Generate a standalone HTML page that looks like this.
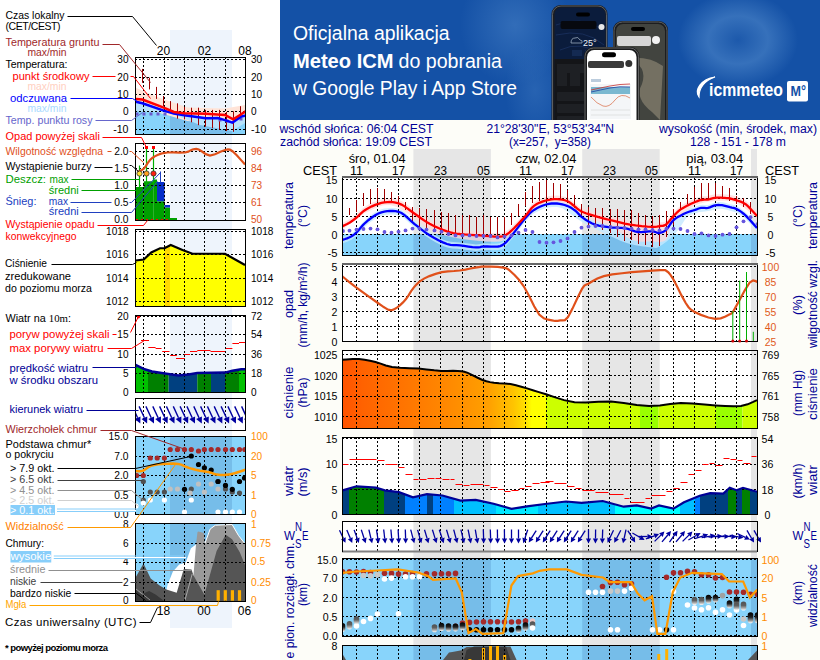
<!DOCTYPE html><html><head><meta charset="utf-8"><style>html,body{margin:0;padding:0;background:#fff;} svg{display:block;} text{font-family:"Liberation Sans", sans-serif;}</style></head><body>
<svg width="820" height="660" viewBox="0 0 820 660">
<rect x="0" y="0" width="280" height="660" fill="#ffffff"/>
<rect x="280" y="0" width="540" height="660" fill="#fdfdf8"/>
<defs>
<linearGradient id="bnbg" x1="0" y1="0" x2="1" y2="0">
 <stop offset="0" stop-color="#1451a6"/><stop offset="0.3" stop-color="#1753a8"/>
 <stop offset="0.42" stop-color="#2d66b5"/><stop offset="0.5" stop-color="#2660b2"/><stop offset="0.8" stop-color="#1a55aa"/><stop offset="1" stop-color="#1450a6"/>
</linearGradient>
<radialGradient id="bnring" cx="0.5" cy="0.5" r="0.5">
 <stop offset="0" stop-color="#4d86c9" stop-opacity="0.15"/><stop offset="0.5" stop-color="#4d86c9" stop-opacity="0.6"/><stop offset="1" stop-color="#4d86c9" stop-opacity="0"/>
</radialGradient>
<radialGradient id="bnglow" cx="0.5" cy="0.5" r="0.5">
 <stop offset="0" stop-color="#4d86c9" stop-opacity="0.75"/><stop offset="1" stop-color="#4d86c9" stop-opacity="0"/>
</radialGradient>
<clipPath id="cpBan"><rect x="280" y="0" width="540" height="120"/></clipPath>
</defs>
<g clip-path="url(#cpBan)">
<rect x="280" y="0" width="540" height="120" fill="#1451a6"/>
<ellipse cx="738" cy="40" rx="60" ry="48" fill="url(#bnring)"/>
<ellipse cx="515" cy="25" rx="55" ry="60" fill="url(#bnglow)" opacity="0.7"/>
<ellipse cx="535" cy="90" rx="30" ry="50" fill="url(#bnglow)" opacity="0.45"/>
<text x="293" y="39.5" font-size="19.5" fill="#ffffff" textLength="156.5" lengthAdjust="spacingAndGlyphs">Oficjalna aplikacja</text>
<text x="293" y="67.5" font-size="19.5" fill="#ffffff" font-weight="bold" textLength="100.5" lengthAdjust="spacingAndGlyphs">Meteo ICM</text>
<text x="398.5" y="67.5" font-size="19.5" fill="#ffffff" textLength="103.5" lengthAdjust="spacingAndGlyphs">do pobrania</text>
<text x="293" y="95" font-size="19.5" fill="#ffffff" textLength="224" lengthAdjust="spacingAndGlyphs">w Google Play i App Store</text>
<rect x="551.5" y="5" width="56" height="130" rx="9" fill="#1c1d20"/>
<rect x="552.5" y="6" width="54" height="128" rx="8.5" fill="none" stroke="#6c6e72" stroke-width="0.8"/>
<rect x="554.5" y="7.5" width="51" height="125" rx="7" fill="#0b1c3c"/>
<path d="M556,25 Q580,15 604,30 M556,35 Q585,28 604,45 M560,50 Q580,40 604,55" stroke="#1a3160" stroke-width="0.8" fill="none"/>
<rect x="554.5" y="59" width="51" height="70" fill="#141518"/>
<rect x="576" y="12.5" width="14" height="4" rx="2" fill="#000"/>
<rect x="560.5" y="21" width="36" height="8" rx="2" fill="#07090f"/>
<circle cx="601.5" cy="27" r="3" fill="#e8e8e8"/>
<text x="583" y="46" font-size="9" fill="#f0f4fa">25°</text>
<path d="M571,43 q0,-5 4,-5 q3,-2 5,2 q3,0 2,3z" fill="none" stroke="#9ab" stroke-width="0.8"/>
<rect x="572" y="50" width="10" height="6" fill="#142a52"/><rect x="585" y="50" width="10" height="6" fill="#142a52"/>
<rect x="557" y="64" width="45" height="9" rx="1" fill="#1e2024"/>
<rect x="557" y="92" width="45" height="9" rx="1" fill="#1e2024"/>
<rect x="557" y="104" width="45" height="9" rx="1" fill="#1e2024"/>
<rect x="557" y="116" width="45" height="9" rx="1" fill="#1e2024"/>
<rect x="557" y="64" width="10" height="22" fill="#1e2024"/><rect x="570" y="64" width="10" height="22" fill="#1e2024"/>
<rect x="613" y="21" width="55" height="120" rx="9" fill="#1c1d1f"/>
<rect x="614" y="22" width="53" height="118" rx="8.5" fill="none" stroke="#707274" stroke-width="0.8"/>
<rect x="616" y="24" width="49" height="115" rx="7" fill="#42443f"/>
<path d="M628,58 Q648,66 642,84 Q634,98 652,112 L660,120 L663,66 Q650,56 628,58Z" fill="#7d7868" opacity="0.85"/><path d="M618,95 Q626,100 622,120 L616,120Z" fill="#6a675c"/>
<path d="M618,50 Q630,55 628,75 Q622,90 630,110" stroke="#7f8fa0" stroke-width="0.7" fill="none"/>
<rect x="631" y="27" width="14" height="4" rx="2" fill="#000"/>
<rect x="617" y="36" width="34" height="10" rx="2" fill="#d6d6d6"/>
<circle cx="656" cy="40" r="4" fill="#f2f2f2"/>
<rect x="584" y="47" width="55.5" height="100" rx="9" fill="#1a1b1d"/>
<rect x="585" y="48" width="53.5" height="98" rx="8.5" fill="none" stroke="#777" stroke-width="0.8"/>
<rect x="587" y="50" width="49.5" height="95" rx="7" fill="#ffffff"/>
<rect x="602" y="52.3" width="14" height="5" rx="2.5" fill="#000"/>
<rect x="588" y="61" width="36" height="7" rx="2" fill="#3a3a3a"/>
<circle cx="628.8" cy="63.5" r="3.5" fill="#333"/>
<rect x="590" y="84" width="41" height="35" fill="#f4f6f8"/>
<rect x="591" y="87" width="39" height="7" fill="#7ab8d0"/>
<path d="M591,90 Q600,88 610,86 T630,84" stroke="#c83030" fill="none" stroke-width="0.8"/>
<path d="M591,92 Q600,90 610,88 T630,87" stroke="#2040a0" fill="none" stroke-width="0.8"/>
<path d="M591,97 Q597,104 603,106 T615,100 T630,98" stroke="#d86840" fill="none" stroke-width="0.7"/>
<path d="M591,110 L630,110 M591,115 L630,115" stroke="#ccc" stroke-width="0.5"/>
<rect x="591" y="79" width="10" height="3" fill="#bcd"/>
<path d="M699,97 C694,90 701,79 715,77 C704,81 699,88 699,97Z" stroke="#fff" stroke-width="1.2" fill="#fff"/>
<text x="709" y="96" font-size="18.5" font-weight="bold" fill="#ffffff" textLength="74" lengthAdjust="spacingAndGlyphs">icmmeteo</text>
<rect x="787" y="81" width="21" height="20.5" rx="2" fill="#ffffff"/>
<text x="790.5" y="95.5" font-size="14" font-weight="bold" fill="#1451a6" textLength="15.5" lengthAdjust="spacingAndGlyphs">M°</text>
</g>
<rect x="413.4" y="149" width="77.5" height="511" fill="#e6e6e6"/>
<rect x="582.2" y="149" width="77.5" height="511" fill="#e6e6e6"/>
<rect x="751.0" y="149" width="6.0" height="511" fill="#e6e6e6"/>
<text x="279.5" y="133" font-size="12.5" fill="#000096" text-anchor="start" font-weight="normal" textLength="154" lengthAdjust="spacingAndGlyphs" >wschód słońca: 06:04 CEST</text>
<text x="280" y="145.5" font-size="12.5" fill="#000096" text-anchor="start" font-weight="normal" textLength="152" lengthAdjust="spacingAndGlyphs" >zachód słońca: 19:09 CEST</text>
<text x="486.4" y="133" font-size="12.5" fill="#000096" text-anchor="start" font-weight="normal" textLength="127.6" lengthAdjust="spacingAndGlyphs" >21°28'30"E, 53°53'34"N</text>
<text x="509" y="145.5" font-size="12.5" fill="#000096" text-anchor="start" font-weight="normal" textLength="82" lengthAdjust="spacingAndGlyphs" xml:space="preserve">(x=257,  y=358)</text>
<text x="659" y="133" font-size="12.5" fill="#000096" text-anchor="start" font-weight="normal" textLength="158" lengthAdjust="spacingAndGlyphs" >wysokość (min, środek, max)</text>
<text x="690" y="145.5" font-size="12.5" fill="#000096" text-anchor="start" font-weight="normal" textLength="96" lengthAdjust="spacingAndGlyphs" >128 - 151 - 178 m</text>
<text x="337" y="175" font-size="13" fill="#000" text-anchor="end" font-weight="normal" textLength="34" lengthAdjust="spacingAndGlyphs" >CEST</text>
<text x="765" y="175" font-size="13" fill="#000" text-anchor="start" font-weight="normal" textLength="34" lengthAdjust="spacingAndGlyphs" >CEST</text>
<text x="356.5" y="175" font-size="13" fill="#000" text-anchor="middle" font-weight="normal" textLength="13" lengthAdjust="spacingAndGlyphs" >11</text>
<text x="398.5" y="175" font-size="13" fill="#000" text-anchor="middle" font-weight="normal" textLength="13" lengthAdjust="spacingAndGlyphs" >17</text>
<text x="440.5" y="175" font-size="13" fill="#000" text-anchor="middle" font-weight="normal" textLength="13" lengthAdjust="spacingAndGlyphs" >23</text>
<text x="483.5" y="175" font-size="13" fill="#000" text-anchor="middle" font-weight="normal" textLength="13" lengthAdjust="spacingAndGlyphs" >05</text>
<text x="525.5" y="175" font-size="13" fill="#000" text-anchor="middle" font-weight="normal" textLength="13" lengthAdjust="spacingAndGlyphs" >11</text>
<text x="567.5" y="175" font-size="13" fill="#000" text-anchor="middle" font-weight="normal" textLength="13" lengthAdjust="spacingAndGlyphs" >17</text>
<text x="609.5" y="175" font-size="13" fill="#000" text-anchor="middle" font-weight="normal" textLength="13" lengthAdjust="spacingAndGlyphs" >23</text>
<text x="651.5" y="175" font-size="13" fill="#000" text-anchor="middle" font-weight="normal" textLength="13" lengthAdjust="spacingAndGlyphs" >05</text>
<text x="694.5" y="175" font-size="13" fill="#000" text-anchor="middle" font-weight="normal" textLength="13" lengthAdjust="spacingAndGlyphs" >11</text>
<text x="736.5" y="175" font-size="13" fill="#000" text-anchor="middle" font-weight="normal" textLength="13" lengthAdjust="spacingAndGlyphs" >17</text>
<text x="377.1694915254237" y="163" font-size="13" fill="#000" text-anchor="middle" font-weight="normal" textLength="57" lengthAdjust="spacingAndGlyphs" >śro, 01.04</text>
<text x="545.9830508474577" y="163" font-size="13" fill="#000" text-anchor="middle" font-weight="normal" textLength="61" lengthAdjust="spacingAndGlyphs" >czw, 02.04</text>
<text x="714.7966101694915" y="163" font-size="13" fill="#000" text-anchor="middle" font-weight="normal" textLength="57" lengthAdjust="spacingAndGlyphs" >pią, 03.04</text>
<rect x="342" y="177" width="415" height="78" fill="#ffffff"/>
<rect x="413.4" y="177" width="77.5" height="78" fill="#e6e6e6"/>
<rect x="582.2" y="177" width="77.5" height="78" fill="#e6e6e6"/>
<rect x="751.0" y="177" width="6.0" height="78" fill="#e6e6e6"/>
<rect x="342" y="234" width="415" height="21" fill="#87d4fb"/>
<rect x="413.4" y="234" width="77.5" height="21" fill="#78bdea"/>
<rect x="582.2" y="234" width="77.5" height="21" fill="#78bdea"/>
<rect x="751.0" y="234" width="6.0" height="21" fill="#78bdea"/>
<clipPath id="cpTemp"><rect x="342" y="177" width="415" height="78"/></clipPath>
<g clip-path="url(#cpTemp)">
<path d="M342.00,237.00 L343.26,236.60 L345.06,236.03 L347.09,235.32 L349.00,234.50 L350.69,233.66 L352.34,232.75 L354.07,231.59 L356.00,230.00 L358.14,227.76 L360.44,225.03 L362.91,222.16 L365.60,219.50 L368.60,216.99 L371.88,214.50 L375.21,212.26 L378.40,210.50 L381.39,209.31 L384.28,208.56 L387.14,208.16 L390.00,208.00 L392.85,207.98 L395.67,208.17 L398.54,208.78 L401.50,210.00 L404.55,212.06 L407.66,214.81 L410.89,217.84 L414.30,220.80 L417.90,223.69 L421.66,226.68 L425.57,229.61 L429.60,232.30 L433.91,234.84 L438.44,237.28 L442.91,239.40 L447.00,241.00 L450.49,241.85 L453.59,242.12 L456.64,242.18 L460.00,242.40 L463.98,242.93 L468.31,243.54 L472.49,244.09 L476.00,244.40 L478.42,244.36 L480.12,244.08 L481.77,243.73 L484.00,243.50 L487.25,243.51 L491.08,243.64 L494.87,243.70 L498.00,243.50 L500.19,243.04 L501.81,242.41 L503.20,241.55 L504.70,240.40 L506.21,239.09 L507.62,237.59 L509.24,235.65 L511.40,233.00 L514.42,229.15 L518.06,224.38 L521.76,219.57 L525.00,215.60 L527.50,212.74 L529.60,210.50 L531.65,208.64 L534.00,206.90 L536.81,205.21 L539.88,203.72 L543.00,202.46 L546.00,201.50 L548.84,200.86 L551.62,200.52 L554.34,200.41 L557.00,200.50 L559.62,200.79 L562.19,201.29 L564.66,201.98 L567.00,202.80 L569.14,203.74 L571.12,204.83 L573.05,206.08 L575.00,207.50 L576.91,209.18 L578.75,211.08 L580.72,213.04 L583.00,214.90 L585.65,216.72 L588.56,218.54 L591.70,220.22 L595.00,221.60 L598.75,222.61 L602.88,223.34 L606.81,223.88 L610.00,224.30 L612.02,224.55 L613.25,224.61 L614.36,224.62 L616.00,224.70 L618.40,224.83 L621.19,224.96 L624.13,225.19 L627.00,225.60 L629.68,226.37 L632.31,227.40 L635.04,228.38 L638.00,229.00 L641.45,229.06 L645.25,228.76 L648.92,228.40 L652.00,228.30 L654.24,228.67 L655.94,229.29 L657.41,229.85 L659.00,230.00 L660.75,229.73 L662.50,229.19 L664.25,228.31 L666.00,227.00 L667.75,224.99 L669.50,222.41 L671.25,219.77 L673.00,217.60 L674.75,216.06 L676.50,214.87 L678.25,213.87 L680.00,212.90 L681.73,211.94 L683.44,211.07 L685.18,210.26 L687.00,209.50 L688.98,208.78 L691.06,208.11 L693.12,207.49 L695.00,206.90 L696.62,206.31 L698.06,205.74 L699.48,205.25 L701.00,204.90 L702.68,204.82 L704.44,204.93 L706.23,205.03 L708.00,204.90 L709.75,204.40 L711.50,203.66 L713.25,202.92 L715.00,202.40 L716.73,202.14 L718.44,202.02 L720.18,202.04 L722.00,202.20 L723.95,202.55 L726.00,203.06 L728.05,203.65 L730.00,204.20 L731.77,204.59 L733.44,204.91 L735.13,205.37 L737.00,206.20 L739.06,207.42 L741.25,208.92 L743.56,210.74 L746.00,212.90 L748.87,215.83 L752.06,219.37 L754.98,222.70 L757.00,225.00 L757.00,231.50 L755.09,229.33 L752.38,226.23 L749.22,222.72 L746.00,219.40 L742.76,216.60 L739.31,214.09 L735.71,212.13 L732.00,211.13 L728.26,210.21 L724.44,209.17 L720.40,208.86 L716.00,209.20 L710.80,210.46 L705.00,211.46 L699.45,212.09 L695.00,213.40 L692.06,214.31 L690.12,214.91 L688.62,215.77 L687.00,217.20 L685.18,219.33 L683.44,221.96 L681.73,224.73 L680.00,227.30 L678.41,229.52 L676.94,231.61 L675.24,233.71 L673.00,236.00 L669.83,238.79 L666.00,241.91 L662.17,244.77 L659.00,246.80 L657.11,247.76 L656.00,247.99 L654.64,247.77 L652.00,247.40 L647.51,246.94 L641.81,246.24 L635.71,245.27 L630.00,244.00 L625.07,242.48 L620.44,240.71 L615.59,238.58 L610.00,236.00 L603.27,232.81 L595.75,229.12 L588.11,225.19 L581.00,221.30 L574.53,216.99 L568.38,212.29 L562.53,208.22 L557.00,207.00 L551.83,207.01 L547.00,207.78 L542.42,209.20 L538.00,211.20 L533.81,213.54 L529.88,216.75 L526.00,220.96 L522.00,225.78 L517.59,231.50 L512.94,237.54 L508.57,242.96 L505.00,246.80 L502.90,248.97 L501.81,249.53 L500.57,249.39 L498.00,250.00 L493.60,250.18 L488.06,250.06 L481.99,250.21 L476.00,250.90 L469.95,250.26 L463.62,249.38 L457.48,248.73 L452.00,248.48 L447.51,247.62 L443.69,246.21 L440.02,244.53 L436.00,242.47 L431.32,239.82 L426.31,236.60 L421.40,232.97 L417.00,229.47 L413.35,226.48 L410.19,223.68 L407.18,220.88 L404.00,218.19 L400.59,216.13 L397.12,214.98 L393.59,214.53 L390.00,214.50 L386.41,214.76 L382.81,215.44 L379.05,216.74 L375.00,218.90 L370.41,222.11 L365.44,226.16 L360.49,231.47 L356.00,236.50 L351.82,239.53 L347.81,241.51 L344.40,242.74 L342.00,243.50Z" fill="#c4e8ff" opacity="0.8"/>
<path d="M342.00,223.00 L343.26,222.41 L345.06,221.56 L347.09,220.56 L349.00,219.50 L350.69,218.43 L352.34,217.30 L354.07,216.02 L356.00,214.50 L358.14,212.60 L360.44,210.41 L362.91,208.18 L365.60,206.20 L368.60,204.46 L371.88,202.84 L375.21,201.43 L378.40,200.30 L381.39,199.46 L384.28,198.87 L387.14,198.54 L390.00,198.50 L392.85,198.69 L395.67,199.13 L398.54,199.90 L401.50,201.10 L404.55,202.85 L407.66,205.07 L410.89,207.53 L414.30,210.00 L417.90,212.54 L421.66,215.24 L425.57,217.89 L429.60,220.30 L433.91,222.48 L438.44,224.53 L442.91,226.33 L447.00,227.80 L450.40,228.84 L453.34,229.53 L456.36,230.03 L460.00,230.50 L464.55,230.94 L469.69,231.29 L474.98,231.59 L480.00,231.90 L484.91,232.29 L489.83,232.72 L494.34,233.06 L498.00,233.20 L500.47,233.14 L502.06,232.92 L503.29,232.52 L504.70,231.90 L506.21,231.18 L507.62,230.35 L509.24,229.12 L511.40,227.20 L514.42,224.26 L518.06,220.53 L521.76,216.61 L525.00,213.10 L527.50,210.04 L529.60,207.15 L531.65,204.54 L534.00,202.30 L536.81,200.50 L539.88,199.06 L543.00,197.92 L546.00,197.00 L548.84,196.30 L551.62,195.85 L554.34,195.63 L557.00,195.60 L559.64,195.77 L562.25,196.16 L564.73,196.74 L567.00,197.50 L568.96,198.48 L570.69,199.68 L572.32,200.99 L574.00,202.30 L575.66,203.64 L577.25,205.05 L578.97,206.43 L581.00,207.70 L583.30,208.78 L585.81,209.74 L588.66,210.68 L592.00,211.70 L595.96,212.85 L600.44,214.06 L605.20,215.30 L610.00,216.50 L614.81,217.72 L619.75,218.96 L624.81,220.12 L630.00,221.10 L635.69,221.91 L641.75,222.59 L647.44,223.10 L652.00,223.40 L655.03,223.41 L657.00,223.18 L658.47,222.84 L660.00,222.50 L661.62,222.34 L663.06,222.24 L664.48,221.93 L666.00,221.10 L667.68,219.53 L669.44,217.43 L671.23,215.16 L673.00,213.10 L674.75,211.27 L676.50,209.51 L678.25,207.86 L680.00,206.40 L681.75,205.17 L683.50,204.14 L685.25,203.21 L687.00,202.30 L688.75,201.40 L690.50,200.55 L692.25,199.75 L694.00,199.00 L695.75,198.27 L697.50,197.57 L699.25,196.97 L701.00,196.50 L702.75,196.26 L704.50,196.20 L706.25,196.16 L708.00,196.00 L709.73,195.62 L711.44,195.12 L713.18,194.63 L715.00,194.30 L716.95,194.16 L719.00,194.15 L721.05,194.21 L723.00,194.30 L724.82,194.40 L726.56,194.53 L728.27,194.72 L730.00,195.00 L731.70,195.36 L733.38,195.79 L735.11,196.33 L737.00,197.00 L739.06,197.69 L741.25,198.41 L743.56,199.43 L746.00,201.00 L748.87,203.60 L752.06,206.95 L754.98,210.18 L757.00,212.40 L757.00,219.00 L753.45,215.80 L748.38,211.12 L742.61,206.39 L737.00,203.00 L731.62,201.35 L726.06,200.69 L720.48,200.68 L715.00,201.00 L709.68,201.50 L704.44,202.38 L699.23,203.81 L694.00,206.00 L688.42,209.18 L682.62,213.19 L677.27,217.60 L673.00,222.00 L670.43,226.75 L669.06,231.91 L667.91,236.62 L666.00,240.00 L663.13,241.58 L659.81,241.91 L656.09,241.64 L652.00,241.40 L647.47,241.54 L642.50,241.66 L637.28,241.30 L632.00,240.00 L626.80,237.32 L621.56,233.60 L616.04,229.58 L610.00,226.00 L602.89,223.04 L595.00,220.31 L587.36,217.68 L581.00,215.00 L576.61,212.02 L573.50,208.88 L570.64,206.05 L567.00,204.00 L562.24,202.62 L556.94,201.75 L551.41,201.75 L546.00,203.00 L540.59,206.05 L535.06,210.56 L529.76,215.54 L525.00,220.00 L520.94,223.87 L517.38,227.60 L514.12,231.03 L511.00,234.00 L508.48,236.52 L506.50,238.66 L504.02,240.32 L500.00,241.40 L493.67,241.73 L485.75,241.41 L477.45,240.74 L470.00,240.00 L463.62,239.23 L457.69,238.29 L452.16,237.20 L447.00,236.00 L442.30,234.78 L438.06,233.50 L434.04,231.97 L430.00,230.00 L426.12,227.45 L422.44,224.44 L418.54,221.21 L414.00,218.00 L408.59,214.33 L402.56,210.25 L396.26,206.80 L390.00,205.00 L383.77,205.31 L377.44,207.12 L371.13,209.88 L365.00,213.00 L358.57,217.02 L351.94,222.00 L346.09,226.73 L342.00,230.00Z" fill="#ffd8d8" opacity="0.75"/>
<line x1="356.5" y1="177" x2="356.5" y2="255" stroke="#000" stroke-width="1" stroke-dasharray="2,2"/>
<line x1="377.5" y1="177" x2="377.5" y2="255" stroke="#000" stroke-width="1" stroke-dasharray="2,2"/>
<line x1="398.5" y1="177" x2="398.5" y2="255" stroke="#000" stroke-width="1" stroke-dasharray="2,2"/>
<line x1="419.5" y1="177" x2="419.5" y2="255" stroke="#000" stroke-width="1" stroke-dasharray="2,2"/>
<line x1="440.5" y1="177" x2="440.5" y2="255" stroke="#000" stroke-width="1" stroke-dasharray="2,2"/>
<line x1="462.5" y1="177" x2="462.5" y2="255" stroke="#000" stroke-width="1" stroke-dasharray="2,2"/>
<line x1="483.5" y1="177" x2="483.5" y2="255" stroke="#000" stroke-width="1" stroke-dasharray="2,2"/>
<line x1="504.5" y1="177" x2="504.5" y2="255" stroke="#000" stroke-width="1" stroke-dasharray="2,2"/>
<line x1="525.5" y1="177" x2="525.5" y2="255" stroke="#000" stroke-width="1" stroke-dasharray="2,2"/>
<line x1="546.5" y1="177" x2="546.5" y2="255" stroke="#000" stroke-width="1" stroke-dasharray="2,2"/>
<line x1="567.5" y1="177" x2="567.5" y2="255" stroke="#000" stroke-width="1" stroke-dasharray="2,2"/>
<line x1="588.5" y1="177" x2="588.5" y2="255" stroke="#000" stroke-width="1" stroke-dasharray="2,2"/>
<line x1="609.5" y1="177" x2="609.5" y2="255" stroke="#000" stroke-width="1" stroke-dasharray="2,2"/>
<line x1="630.5" y1="177" x2="630.5" y2="255" stroke="#000" stroke-width="1" stroke-dasharray="2,2"/>
<line x1="651.5" y1="177" x2="651.5" y2="255" stroke="#000" stroke-width="1" stroke-dasharray="2,2"/>
<line x1="673.5" y1="177" x2="673.5" y2="255" stroke="#000" stroke-width="1" stroke-dasharray="2,2"/>
<line x1="694.5" y1="177" x2="694.5" y2="255" stroke="#000" stroke-width="1" stroke-dasharray="2,2"/>
<line x1="715.5" y1="177" x2="715.5" y2="255" stroke="#000" stroke-width="1" stroke-dasharray="2,2"/>
<line x1="736.5" y1="177" x2="736.5" y2="255" stroke="#000" stroke-width="1" stroke-dasharray="2,2"/>
<line x1="342" y1="179.5" x2="757" y2="179.5" stroke="#000" stroke-width="1" stroke-dasharray="2,2"/>
<line x1="342" y1="198.5" x2="757" y2="198.5" stroke="#000" stroke-width="1" stroke-dasharray="2,2"/>
<line x1="342" y1="216.5" x2="757" y2="216.5" stroke="#000" stroke-width="1" stroke-dasharray="2,2"/>
<line x1="342" y1="234.5" x2="757" y2="234.5" stroke="#000" stroke-width="1" stroke-dasharray="2,2"/>
<line x1="342" y1="252.5" x2="757" y2="252.5" stroke="#000" stroke-width="1" stroke-dasharray="2,2"/>
<line x1="349.5" y1="208" x2="349.5" y2="215" stroke="#a00000" stroke-width="1"/>
<line x1="356.5" y1="200" x2="356.5" y2="212" stroke="#a00000" stroke-width="1"/>
<line x1="363.5" y1="193" x2="363.5" y2="206" stroke="#a00000" stroke-width="1"/>
<line x1="370.5" y1="189" x2="370.5" y2="204" stroke="#a00000" stroke-width="1"/>
<line x1="377.5" y1="188" x2="377.5" y2="202" stroke="#a00000" stroke-width="1"/>
<line x1="384.5" y1="189" x2="384.5" y2="202" stroke="#a00000" stroke-width="1"/>
<line x1="391.5" y1="192" x2="391.5" y2="202" stroke="#a00000" stroke-width="1"/>
<line x1="398.5" y1="196" x2="398.5" y2="204" stroke="#a00000" stroke-width="1"/>
<line x1="405.5" y1="202" x2="405.5" y2="210" stroke="#a00000" stroke-width="1"/>
<line x1="412.5" y1="207" x2="412.5" y2="221" stroke="#a00000" stroke-width="1"/>
<line x1="419.5" y1="208" x2="419.5" y2="227" stroke="#a00000" stroke-width="1"/>
<line x1="426.5" y1="209" x2="426.5" y2="229" stroke="#a00000" stroke-width="1"/>
<line x1="434.5" y1="210" x2="434.5" y2="231" stroke="#a00000" stroke-width="1"/>
<line x1="441.5" y1="212" x2="441.5" y2="233" stroke="#a00000" stroke-width="1"/>
<line x1="448.5" y1="213" x2="448.5" y2="234" stroke="#a00000" stroke-width="1"/>
<line x1="455.5" y1="215" x2="455.5" y2="235" stroke="#a00000" stroke-width="1"/>
<line x1="462.5" y1="215" x2="462.5" y2="235" stroke="#a00000" stroke-width="1"/>
<line x1="469.5" y1="215" x2="469.5" y2="236" stroke="#a00000" stroke-width="1"/>
<line x1="476.5" y1="217" x2="476.5" y2="236" stroke="#a00000" stroke-width="1"/>
<line x1="483.5" y1="215" x2="483.5" y2="237" stroke="#a00000" stroke-width="1"/>
<line x1="490.5" y1="217" x2="490.5" y2="237" stroke="#a00000" stroke-width="1"/>
<line x1="497.5" y1="217" x2="497.5" y2="238" stroke="#a00000" stroke-width="1"/>
<line x1="504.5" y1="217" x2="504.5" y2="235" stroke="#a00000" stroke-width="1"/>
<line x1="511.5" y1="213" x2="511.5" y2="225" stroke="#a00000" stroke-width="1"/>
<line x1="518.5" y1="204" x2="518.5" y2="216" stroke="#a00000" stroke-width="1"/>
<line x1="525.5" y1="192" x2="525.5" y2="206" stroke="#a00000" stroke-width="1"/>
<line x1="532.5" y1="186" x2="532.5" y2="203" stroke="#a00000" stroke-width="1"/>
<line x1="539.5" y1="182" x2="539.5" y2="201" stroke="#a00000" stroke-width="1"/>
<line x1="546.5" y1="180" x2="546.5" y2="200" stroke="#a00000" stroke-width="1"/>
<line x1="553.5" y1="183" x2="553.5" y2="200" stroke="#a00000" stroke-width="1"/>
<line x1="560.5" y1="184" x2="560.5" y2="199" stroke="#a00000" stroke-width="1"/>
<line x1="567.5" y1="190" x2="567.5" y2="202" stroke="#a00000" stroke-width="1"/>
<line x1="574.5" y1="195" x2="574.5" y2="208" stroke="#a00000" stroke-width="1"/>
<line x1="581.5" y1="204" x2="581.5" y2="217" stroke="#a00000" stroke-width="1"/>
<line x1="588.5" y1="207" x2="588.5" y2="225" stroke="#a00000" stroke-width="1"/>
<line x1="595.5" y1="208" x2="595.5" y2="227" stroke="#a00000" stroke-width="1"/>
<line x1="602.5" y1="208" x2="602.5" y2="230" stroke="#a00000" stroke-width="1"/>
<line x1="610.5" y1="209" x2="610.5" y2="233" stroke="#a00000" stroke-width="1"/>
<line x1="617.5" y1="209" x2="617.5" y2="237" stroke="#a00000" stroke-width="1"/>
<line x1="624.5" y1="210" x2="624.5" y2="241" stroke="#a00000" stroke-width="1"/>
<line x1="631.5" y1="210" x2="631.5" y2="240" stroke="#a00000" stroke-width="1"/>
<line x1="638.5" y1="213" x2="638.5" y2="244" stroke="#a00000" stroke-width="1"/>
<line x1="645.5" y1="215" x2="645.5" y2="245" stroke="#a00000" stroke-width="1"/>
<line x1="652.5" y1="216" x2="652.5" y2="247" stroke="#a00000" stroke-width="1"/>
<line x1="659.5" y1="215" x2="659.5" y2="246" stroke="#a00000" stroke-width="1"/>
<line x1="666.5" y1="211" x2="666.5" y2="237" stroke="#a00000" stroke-width="1"/>
<line x1="673.5" y1="209" x2="673.5" y2="225" stroke="#a00000" stroke-width="1"/>
<line x1="680.5" y1="202" x2="680.5" y2="210" stroke="#a00000" stroke-width="1"/>
<line x1="687.5" y1="194" x2="687.5" y2="204" stroke="#a00000" stroke-width="1"/>
<line x1="694.5" y1="187" x2="694.5" y2="202" stroke="#a00000" stroke-width="1"/>
<line x1="701.5" y1="183" x2="701.5" y2="200" stroke="#a00000" stroke-width="1"/>
<line x1="708.5" y1="183" x2="708.5" y2="199" stroke="#a00000" stroke-width="1"/>
<line x1="715.5" y1="183" x2="715.5" y2="198" stroke="#a00000" stroke-width="1"/>
<line x1="722.5" y1="186" x2="722.5" y2="198" stroke="#a00000" stroke-width="1"/>
<line x1="729.5" y1="188" x2="729.5" y2="201" stroke="#a00000" stroke-width="1"/>
<line x1="736.5" y1="196" x2="736.5" y2="204" stroke="#a00000" stroke-width="1"/>
<line x1="743.5" y1="198" x2="743.5" y2="207" stroke="#a00000" stroke-width="1"/>
<line x1="750.5" y1="202" x2="750.5" y2="214" stroke="#a00000" stroke-width="1"/>
<path d="M342.00,240.00 L343.26,239.60 L345.06,239.03 L347.09,238.32 L349.00,237.50 L350.69,236.66 L352.34,235.75 L354.07,234.59 L356.00,233.00 L358.14,230.76 L360.44,228.03 L362.91,225.16 L365.60,222.50 L368.60,219.99 L371.88,217.50 L375.21,215.26 L378.40,213.50 L381.39,212.31 L384.28,211.56 L387.14,211.16 L390.00,211.00 L392.85,210.98 L395.67,211.17 L398.54,211.78 L401.50,213.00 L404.55,215.06 L407.66,217.81 L410.89,220.84 L414.30,223.80 L417.90,226.69 L421.66,229.68 L425.57,232.61 L429.60,235.30 L433.91,237.84 L438.44,240.28 L442.91,242.40 L447.00,244.00 L450.49,244.85 L453.59,245.12 L456.64,245.18 L460.00,245.40 L463.98,245.93 L468.31,246.54 L472.49,247.09 L476.00,247.40 L478.42,247.36 L480.12,247.08 L481.77,246.73 L484.00,246.50 L487.25,246.51 L491.08,246.64 L494.87,246.70 L498.00,246.50 L500.19,246.04 L501.81,245.41 L503.20,244.55 L504.70,243.40 L506.21,242.09 L507.62,240.59 L509.24,238.65 L511.40,236.00 L514.42,232.15 L518.06,227.38 L521.76,222.57 L525.00,218.60 L527.50,215.74 L529.60,213.50 L531.65,211.64 L534.00,209.90 L536.81,208.21 L539.88,206.72 L543.00,205.46 L546.00,204.50 L548.84,203.86 L551.62,203.52 L554.34,203.41 L557.00,203.50 L559.62,203.79 L562.19,204.29 L564.66,204.98 L567.00,205.80 L569.14,206.74 L571.12,207.83 L573.05,209.08 L575.00,210.50 L576.91,212.18 L578.75,214.08 L580.72,216.04 L583.00,217.90 L585.65,219.72 L588.56,221.54 L591.70,223.22 L595.00,224.60 L598.75,225.61 L602.88,226.34 L606.81,226.88 L610.00,227.30 L612.02,227.55 L613.25,227.61 L614.36,227.62 L616.00,227.70 L618.40,227.83 L621.19,227.96 L624.13,228.19 L627.00,228.60 L629.68,229.37 L632.31,230.40 L635.04,231.38 L638.00,232.00 L641.45,232.06 L645.25,231.76 L648.92,231.40 L652.00,231.30 L654.24,231.67 L655.94,232.29 L657.41,232.85 L659.00,233.00 L660.75,232.73 L662.50,232.19 L664.25,231.31 L666.00,230.00 L667.75,227.99 L669.50,225.41 L671.25,222.77 L673.00,220.60 L674.75,219.06 L676.50,217.87 L678.25,216.87 L680.00,215.90 L681.73,214.94 L683.44,214.07 L685.18,213.26 L687.00,212.50 L688.98,211.78 L691.06,211.11 L693.12,210.49 L695.00,209.90 L696.62,209.31 L698.06,208.74 L699.48,208.25 L701.00,207.90 L702.68,207.82 L704.44,207.93 L706.23,208.03 L708.00,207.90 L709.75,207.40 L711.50,206.66 L713.25,205.92 L715.00,205.40 L716.73,205.14 L718.44,205.02 L720.18,205.04 L722.00,205.20 L723.95,205.55 L726.00,206.06 L728.05,206.65 L730.00,207.20 L731.77,207.59 L733.44,207.91 L735.13,208.37 L737.00,209.20 L739.06,210.42 L741.25,211.92 L743.56,213.74 L746.00,215.90 L748.87,218.83 L752.06,222.37 L754.98,225.70 L757.00,228.00" stroke="#0000ff" stroke-width="2.3" fill="none" />
<path d="M342.00,226.50 L343.26,225.91 L345.06,225.06 L347.09,224.06 L349.00,223.00 L350.69,221.93 L352.34,220.80 L354.07,219.52 L356.00,218.00 L358.14,216.10 L360.44,213.91 L362.91,211.68 L365.60,209.70 L368.60,207.96 L371.88,206.34 L375.21,204.93 L378.40,203.80 L381.39,202.96 L384.28,202.37 L387.14,202.04 L390.00,202.00 L392.85,202.19 L395.67,202.63 L398.54,203.40 L401.50,204.60 L404.55,206.35 L407.66,208.57 L410.89,211.03 L414.30,213.50 L417.90,216.04 L421.66,218.74 L425.57,221.39 L429.60,223.80 L433.91,225.98 L438.44,228.03 L442.91,229.83 L447.00,231.30 L450.40,232.34 L453.34,233.03 L456.36,233.53 L460.00,234.00 L464.55,234.44 L469.69,234.79 L474.98,235.09 L480.00,235.40 L484.91,235.79 L489.83,236.22 L494.34,236.56 L498.00,236.70 L500.47,236.64 L502.06,236.42 L503.29,236.02 L504.70,235.40 L506.21,234.68 L507.62,233.85 L509.24,232.62 L511.40,230.70 L514.42,227.76 L518.06,224.03 L521.76,220.11 L525.00,216.60 L527.50,213.54 L529.60,210.65 L531.65,208.04 L534.00,205.80 L536.81,204.00 L539.88,202.56 L543.00,201.42 L546.00,200.50 L548.84,199.80 L551.62,199.35 L554.34,199.13 L557.00,199.10 L559.64,199.27 L562.25,199.66 L564.73,200.24 L567.00,201.00 L568.96,201.98 L570.69,203.18 L572.32,204.49 L574.00,205.80 L575.66,207.14 L577.25,208.55 L578.97,209.93 L581.00,211.20 L583.30,212.28 L585.81,213.24 L588.66,214.18 L592.00,215.20 L595.96,216.35 L600.44,217.56 L605.20,218.80 L610.00,220.00 L614.81,221.22 L619.75,222.46 L624.81,223.62 L630.00,224.60 L635.69,225.41 L641.75,226.09 L647.44,226.60 L652.00,226.90 L655.03,226.91 L657.00,226.68 L658.47,226.34 L660.00,226.00 L661.62,225.84 L663.06,225.74 L664.48,225.43 L666.00,224.60 L667.68,223.03 L669.44,220.93 L671.23,218.66 L673.00,216.60 L674.75,214.77 L676.50,213.01 L678.25,211.36 L680.00,209.90 L681.75,208.67 L683.50,207.64 L685.25,206.71 L687.00,205.80 L688.75,204.90 L690.50,204.05 L692.25,203.25 L694.00,202.50 L695.75,201.77 L697.50,201.07 L699.25,200.47 L701.00,200.00 L702.75,199.76 L704.50,199.70 L706.25,199.66 L708.00,199.50 L709.73,199.12 L711.44,198.62 L713.18,198.13 L715.00,197.80 L716.95,197.66 L719.00,197.65 L721.05,197.71 L723.00,197.80 L724.82,197.90 L726.56,198.03 L728.27,198.22 L730.00,198.50 L731.70,198.86 L733.38,199.29 L735.11,199.83 L737.00,200.50 L739.06,201.19 L741.25,201.91 L743.56,202.93 L746.00,204.50 L748.87,207.10 L752.06,210.45 L754.98,213.68 L757.00,215.90" stroke="#ff0000" stroke-width="2.3" fill="none" />
<circle cx="349.5" cy="230.7" r="1.9" fill="#6655dd"/>
<circle cx="356.5" cy="229.6" r="1.9" fill="#6655dd"/>
<circle cx="363.5" cy="229.0" r="1.9" fill="#6655dd"/>
<circle cx="370.5" cy="228.6" r="1.9" fill="#6655dd"/>
<circle cx="377.5" cy="229.3" r="1.9" fill="#6655dd"/>
<circle cx="384.5" cy="232.0" r="1.9" fill="#6655dd"/>
<circle cx="391.5" cy="232.7" r="1.9" fill="#6655dd"/>
<circle cx="398.5" cy="231.7" r="1.9" fill="#6655dd"/>
<circle cx="405.5" cy="230.4" r="1.9" fill="#6655dd"/>
<circle cx="412.5" cy="228.6" r="1.9" fill="#6655dd"/>
<circle cx="419.5" cy="228.6" r="1.9" fill="#6655dd"/>
<circle cx="426.5" cy="229.6" r="1.9" fill="#6655dd"/>
<circle cx="434.5" cy="230.4" r="1.9" fill="#6655dd"/>
<circle cx="441.5" cy="231.7" r="1.9" fill="#6655dd"/>
<circle cx="448.5" cy="234.0" r="1.9" fill="#6655dd"/>
<circle cx="455.5" cy="235.4" r="1.9" fill="#6655dd"/>
<circle cx="462.5" cy="235.4" r="1.9" fill="#6655dd"/>
<circle cx="469.5" cy="235.4" r="1.9" fill="#6655dd"/>
<circle cx="476.5" cy="236.0" r="1.9" fill="#6655dd"/>
<circle cx="483.5" cy="236.0" r="1.9" fill="#6655dd"/>
<circle cx="490.5" cy="236.0" r="1.9" fill="#6655dd"/>
<circle cx="497.5" cy="237.4" r="1.9" fill="#6655dd"/>
<circle cx="504.5" cy="236.7" r="1.9" fill="#6655dd"/>
<circle cx="511.5" cy="235.4" r="1.9" fill="#6655dd"/>
<circle cx="518.5" cy="232.7" r="1.9" fill="#6655dd"/>
<circle cx="525.5" cy="230.0" r="1.9" fill="#6655dd"/>
<circle cx="532.5" cy="232.0" r="1.9" fill="#6655dd"/>
<circle cx="539.5" cy="242.0" r="1.9" fill="#6655dd"/>
<circle cx="546.5" cy="242.7" r="1.9" fill="#6655dd"/>
<circle cx="553.5" cy="242.3" r="1.9" fill="#6655dd"/>
<circle cx="560.5" cy="241.0" r="1.9" fill="#6655dd"/>
<circle cx="567.5" cy="238.4" r="1.9" fill="#6655dd"/>
<circle cx="574.5" cy="232.0" r="1.9" fill="#6655dd"/>
<circle cx="581.5" cy="227.7" r="1.9" fill="#6655dd"/>
<circle cx="588.5" cy="226.6" r="1.9" fill="#6655dd"/>
<circle cx="595.5" cy="226.0" r="1.9" fill="#6655dd"/>
<circle cx="602.5" cy="226.0" r="1.9" fill="#6655dd"/>
<circle cx="610.5" cy="227.0" r="1.9" fill="#6655dd"/>
<circle cx="617.5" cy="227.7" r="1.9" fill="#6655dd"/>
<circle cx="624.5" cy="228.0" r="1.9" fill="#6655dd"/>
<circle cx="631.5" cy="228.6" r="1.9" fill="#6655dd"/>
<circle cx="638.5" cy="229.3" r="1.9" fill="#6655dd"/>
<circle cx="645.5" cy="229.3" r="1.9" fill="#6655dd"/>
<circle cx="652.5" cy="230.0" r="1.9" fill="#6655dd"/>
<circle cx="659.5" cy="230.4" r="1.9" fill="#6655dd"/>
<circle cx="666.5" cy="228.6" r="1.9" fill="#6655dd"/>
<circle cx="673.5" cy="228.6" r="1.9" fill="#6655dd"/>
<circle cx="680.5" cy="229.0" r="1.9" fill="#6655dd"/>
<circle cx="687.5" cy="231.0" r="1.9" fill="#6655dd"/>
<circle cx="694.5" cy="234.0" r="1.9" fill="#6655dd"/>
<circle cx="701.5" cy="233.3" r="1.9" fill="#6655dd"/>
<circle cx="708.5" cy="235.4" r="1.9" fill="#6655dd"/>
<circle cx="715.5" cy="236.0" r="1.9" fill="#6655dd"/>
<circle cx="722.5" cy="234.7" r="1.9" fill="#6655dd"/>
<circle cx="729.5" cy="234.0" r="1.9" fill="#6655dd"/>
<circle cx="736.5" cy="227.3" r="1.9" fill="#6655dd"/>
<circle cx="743.5" cy="221.3" r="1.9" fill="#6655dd"/>
<circle cx="750.5" cy="217.2" r="1.9" fill="#6655dd"/>
<circle cx="757.5" cy="224.0" r="1.9" fill="#6655dd"/>
<circle cx="343" cy="231" r="1.9" fill="#6655dd"/>
</g>
<rect x="342.5" y="177.5" width="415" height="78" fill="none" stroke="#000" stroke-width="1"/>
<line x1="342" y1="177" x2="758" y2="177" stroke="#666" stroke-width="2"/>
<text x="337.5" y="183.5" font-size="11.5" fill="#000" text-anchor="end" font-weight="normal" textLength="11.8" lengthAdjust="spacingAndGlyphs" >15</text>
<text x="770.5" y="183.5" font-size="11.5" fill="#000" text-anchor="middle" font-weight="normal" textLength="11.8" lengthAdjust="spacingAndGlyphs" >15</text>
<text x="337.5" y="202.5" font-size="11.5" fill="#000" text-anchor="end" font-weight="normal" textLength="11.8" lengthAdjust="spacingAndGlyphs" >10</text>
<text x="770.5" y="202.5" font-size="11.5" fill="#000" text-anchor="middle" font-weight="normal" textLength="11.8" lengthAdjust="spacingAndGlyphs" >10</text>
<text x="337.5" y="220.5" font-size="11.5" fill="#000" text-anchor="end" font-weight="normal" textLength="5.9" lengthAdjust="spacingAndGlyphs" >5</text>
<text x="770.5" y="220.5" font-size="11.5" fill="#000" text-anchor="middle" font-weight="normal" textLength="5.9" lengthAdjust="spacingAndGlyphs" >5</text>
<text x="337.5" y="238.5" font-size="11.5" fill="#000" text-anchor="end" font-weight="normal" textLength="5.9" lengthAdjust="spacingAndGlyphs" >0</text>
<text x="770.5" y="238.5" font-size="11.5" fill="#000" text-anchor="middle" font-weight="normal" textLength="5.9" lengthAdjust="spacingAndGlyphs" >0</text>
<text x="337.5" y="256.5" font-size="11.5" fill="#000" text-anchor="end" font-weight="normal" textLength="10" lengthAdjust="spacingAndGlyphs" >-5</text>
<text x="770.5" y="256.5" font-size="11.5" fill="#000" text-anchor="middle" font-weight="normal" textLength="10" lengthAdjust="spacingAndGlyphs" >-5</text>
<rect x="342" y="264" width="415" height="77" fill="#ffffff"/>
<rect x="413.4" y="264" width="77.5" height="77" fill="#e6e6e6"/>
<rect x="582.2" y="264" width="77.5" height="77" fill="#e6e6e6"/>
<rect x="751.0" y="264" width="6.0" height="77" fill="#e6e6e6"/>
<line x1="356.5" y1="264" x2="356.5" y2="341" stroke="#000" stroke-width="1" stroke-dasharray="2,2"/>
<line x1="377.5" y1="264" x2="377.5" y2="341" stroke="#000" stroke-width="1" stroke-dasharray="2,2"/>
<line x1="398.5" y1="264" x2="398.5" y2="341" stroke="#000" stroke-width="1" stroke-dasharray="2,2"/>
<line x1="419.5" y1="264" x2="419.5" y2="341" stroke="#000" stroke-width="1" stroke-dasharray="2,2"/>
<line x1="440.5" y1="264" x2="440.5" y2="341" stroke="#000" stroke-width="1" stroke-dasharray="2,2"/>
<line x1="462.5" y1="264" x2="462.5" y2="341" stroke="#000" stroke-width="1" stroke-dasharray="2,2"/>
<line x1="483.5" y1="264" x2="483.5" y2="341" stroke="#000" stroke-width="1" stroke-dasharray="2,2"/>
<line x1="504.5" y1="264" x2="504.5" y2="341" stroke="#000" stroke-width="1" stroke-dasharray="2,2"/>
<line x1="525.5" y1="264" x2="525.5" y2="341" stroke="#000" stroke-width="1" stroke-dasharray="2,2"/>
<line x1="546.5" y1="264" x2="546.5" y2="341" stroke="#000" stroke-width="1" stroke-dasharray="2,2"/>
<line x1="567.5" y1="264" x2="567.5" y2="341" stroke="#000" stroke-width="1" stroke-dasharray="2,2"/>
<line x1="588.5" y1="264" x2="588.5" y2="341" stroke="#000" stroke-width="1" stroke-dasharray="2,2"/>
<line x1="609.5" y1="264" x2="609.5" y2="341" stroke="#000" stroke-width="1" stroke-dasharray="2,2"/>
<line x1="630.5" y1="264" x2="630.5" y2="341" stroke="#000" stroke-width="1" stroke-dasharray="2,2"/>
<line x1="651.5" y1="264" x2="651.5" y2="341" stroke="#000" stroke-width="1" stroke-dasharray="2,2"/>
<line x1="673.5" y1="264" x2="673.5" y2="341" stroke="#000" stroke-width="1" stroke-dasharray="2,2"/>
<line x1="694.5" y1="264" x2="694.5" y2="341" stroke="#000" stroke-width="1" stroke-dasharray="2,2"/>
<line x1="715.5" y1="264" x2="715.5" y2="341" stroke="#000" stroke-width="1" stroke-dasharray="2,2"/>
<line x1="736.5" y1="264" x2="736.5" y2="341" stroke="#000" stroke-width="1" stroke-dasharray="2,2"/>
<line x1="342" y1="341.5" x2="757" y2="341.5" stroke="#000" stroke-width="1" stroke-dasharray="2,2"/>
<line x1="342" y1="326.5" x2="757" y2="326.5" stroke="#000" stroke-width="1" stroke-dasharray="2,2"/>
<line x1="342" y1="311.5" x2="757" y2="311.5" stroke="#000" stroke-width="1" stroke-dasharray="2,2"/>
<line x1="342" y1="296.5" x2="757" y2="296.5" stroke="#000" stroke-width="1" stroke-dasharray="2,2"/>
<line x1="342" y1="281.5" x2="757" y2="281.5" stroke="#000" stroke-width="1" stroke-dasharray="2,2"/>
<line x1="342" y1="266.5" x2="757" y2="266.5" stroke="#000" stroke-width="1" stroke-dasharray="2,2"/>
<clipPath id="cpPrec"><rect x="342" y="264" width="415" height="77"/></clipPath>
<g clip-path="url(#cpPrec)">
<path d="M342.00,276.10 L344.94,278.50 L349.30,282.04 L354.80,286.30 L362.31,291.81 L370.97,298.05 L377.90,303.00 L381.67,305.67 L383.72,307.06 L385.50,308.10 L387.37,309.16 L388.97,309.88 L390.70,310.10 L392.62,309.82 L394.66,309.04 L397.00,307.60 L399.85,305.32 L403.00,302.38 L406.00,299.10 L408.57,295.40 L410.99,291.36 L413.70,287.60 L416.66,284.32 L419.91,281.31 L424.00,278.60 L429.40,276.10 L435.65,273.89 L441.90,272.20 L447.96,271.33 L454.02,270.98 L459.80,270.50 L465.31,269.55 L470.54,268.47 L475.20,267.60 L478.70,267.05 L481.62,266.71 L485.40,266.60 L491.17,266.67 L497.80,266.96 L503.30,267.60 L506.43,268.35 L508.43,269.44 L511.00,271.70 L514.79,275.29 L519.15,280.04 L523.80,286.30 L528.84,295.52 L534.16,306.25 L539.20,314.50 L543.83,318.34 L548.17,319.70 L552.00,320.40 L555.09,320.96 L557.67,320.87 L560.20,320.40 L562.60,320.43 L564.96,320.09 L568.00,317.00 L572.49,308.61 L577.67,297.48 L582.00,288.90 L584.36,285.59 L585.88,284.84 L588.40,283.80 L592.39,281.29 L597.39,278.48 L603.80,276.10 L612.26,274.45 L622.13,273.22 L632.00,272.20 L642.18,271.29 L652.34,270.59 L660.10,270.20 L663.84,270.01 L665.17,270.13 L666.50,271.00 L668.40,272.41 L670.29,274.57 L672.90,278.60 L676.83,286.06 L681.48,295.39 L685.70,303.00 L688.56,307.22 L690.99,309.73 L694.70,312.00 L700.92,314.87 L708.41,317.51 L715.20,318.90 L720.71,318.30 L725.50,316.44 L729.30,314.50 L731.29,313.66 L732.28,312.74 L734.40,309.40 L739.03,301.07 L744.79,290.32 L749.70,282.50 L753.11,280.36 L755.69,281.15 L757.40,282.00" stroke="#e0501a" stroke-width="2.2" fill="none" />
<line x1="732.8" y1="311" x2="732.8" y2="341" stroke="#00b000" stroke-width="1"/>
<line x1="739.7" y1="280.6" x2="739.7" y2="341" stroke="#00b000" stroke-width="1"/>
<line x1="746.5" y1="272" x2="746.5" y2="341" stroke="#00b000" stroke-width="1"/>
<line x1="753.3" y1="331.8" x2="753.3" y2="341" stroke="#00b000" stroke-width="1"/>
</g>
<line x1="342" y1="341.5" x2="757" y2="341.5" stroke="#006000" stroke-width="1" stroke-dasharray="3,3"/>
<rect x="342.5" y="264.5" width="415" height="77" fill="none" stroke="#000" stroke-width="1"/>
<line x1="342" y1="264" x2="758" y2="264" stroke="#666" stroke-width="2"/>
<text x="337.5" y="345.5" font-size="11.5" fill="#000" text-anchor="end" font-weight="normal" textLength="5.9" lengthAdjust="spacingAndGlyphs" >0</text>
<text x="337.5" y="330.5" font-size="11.5" fill="#000" text-anchor="end" font-weight="normal" textLength="5.9" lengthAdjust="spacingAndGlyphs" >1</text>
<text x="337.5" y="315.5" font-size="11.5" fill="#000" text-anchor="end" font-weight="normal" textLength="5.9" lengthAdjust="spacingAndGlyphs" >2</text>
<text x="337.5" y="300.5" font-size="11.5" fill="#000" text-anchor="end" font-weight="normal" textLength="5.9" lengthAdjust="spacingAndGlyphs" >3</text>
<text x="337.5" y="285.5" font-size="11.5" fill="#000" text-anchor="end" font-weight="normal" textLength="5.9" lengthAdjust="spacingAndGlyphs" >4</text>
<text x="337.5" y="270.5" font-size="11.5" fill="#000" text-anchor="end" font-weight="normal" textLength="5.9" lengthAdjust="spacingAndGlyphs" >5</text>
<text x="770.5" y="270.5" font-size="11.5" fill="#e05a1a" text-anchor="middle" font-weight="normal" textLength="17.4" lengthAdjust="spacingAndGlyphs" >100</text>
<text x="770.5" y="285.5" font-size="11.5" fill="#e05a1a" text-anchor="middle" font-weight="normal" textLength="11.6" lengthAdjust="spacingAndGlyphs" >85</text>
<text x="770.5" y="300.5" font-size="11.5" fill="#e05a1a" text-anchor="middle" font-weight="normal" textLength="11.6" lengthAdjust="spacingAndGlyphs" >70</text>
<text x="770.5" y="315.5" font-size="11.5" fill="#e05a1a" text-anchor="middle" font-weight="normal" textLength="11.6" lengthAdjust="spacingAndGlyphs" >55</text>
<text x="770.5" y="330.5" font-size="11.5" fill="#e05a1a" text-anchor="middle" font-weight="normal" textLength="11.6" lengthAdjust="spacingAndGlyphs" >40</text>
<text x="770.5" y="345.5" font-size="11.5" fill="#e05a1a" text-anchor="middle" font-weight="normal" textLength="11.6" lengthAdjust="spacingAndGlyphs" >25</text>
<circle cx="732.8" cy="341" r="1.5" fill="#d00000"/>
<circle cx="739.7" cy="341" r="1.5" fill="#d00000"/>
<circle cx="746.5" cy="341" r="1.5" fill="#d00000"/>
<rect x="342" y="350" width="415" height="78" fill="#ffffff"/>
<rect x="413.4" y="350" width="77.5" height="78" fill="#e6e6e6"/>
<rect x="582.2" y="350" width="77.5" height="78" fill="#e6e6e6"/>
<rect x="751.0" y="350" width="6.0" height="78" fill="#e6e6e6"/>
<defs><linearGradient id="presg" x1="342" y1="0" x2="546" y2="0" gradientUnits="userSpaceOnUse">
<stop offset="0" stop-color="#ff5200"/><stop offset="0.1" stop-color="#ff6200"/><stop offset="0.3" stop-color="#ff7400"/>
<stop offset="0.55" stop-color="#ff8c00"/><stop offset="0.72" stop-color="#ffa000"/><stop offset="0.84" stop-color="#ffc400"/>
<stop offset="0.9" stop-color="#ffe000"/><stop offset="0.93" stop-color="#ffff00"/><stop offset="1" stop-color="#ffff00"/>
</linearGradient></defs>
<clipPath id="cpPres"><path d="M342.0,359.7 L346.4,359.4 L352.7,359.0 L359.0,359.0 L364.5,359.7 L370.0,360.7 L375.5,362.0 L380.6,363.6 L385.8,365.5 L392.0,367.0 L400.2,367.8 L409.4,368.1 L418.3,368.6 L426.5,369.4 L434.2,370.3 L441.3,370.9 L447.5,371.0 L453.0,370.8 L457.8,370.9 L461.4,371.2 L464.3,371.8 L467.7,372.9 L472.4,375.0 L477.6,377.8 L482.5,380.0 L486.4,381.3 L489.9,382.1 L494.0,382.8 L499.1,383.2 L504.8,383.4 L510.5,384.0 L515.9,385.2 L521.3,386.7 L527.0,388.4 L532.8,390.2 L538.9,392.1 L546.0,394.3 L554.5,397.1 L564.1,400.1 L574.5,402.2 L586.0,402.4 L598.4,401.7 L611.0,401.6 L623.8,403.0 L636.7,404.9 L649.0,406.0 L659.9,405.4 L670.1,404.0 L680.7,403.1 L692.4,403.5 L704.6,404.6 L715.6,405.4 L725.1,406.0 L733.6,406.3 L741.0,406.0 L747.6,404.3 L753.2,401.9 L757.0,400.2 L757,429 L342,429Z"/></clipPath><g clip-path="url(#cpPres)">
<rect x="342" y="350" width="204" height="79" fill="url(#presg)"/>
<rect x="546" y="350" width="94" height="79" fill="#ccff00"/>
<rect x="640" y="350" width="18.5" height="79" fill="#99ff00"/>
<rect x="658.5" y="350" width="57.5" height="79" fill="#ccff00"/>
<rect x="716" y="350" width="26.5" height="79" fill="#99ff00"/>
<rect x="742.5" y="350" width="14.5" height="79" fill="#ccff00"/>
</g>
<line x1="356.5" y1="350" x2="356.5" y2="428" stroke="#000" stroke-width="1" stroke-dasharray="2,2"/>
<line x1="377.5" y1="350" x2="377.5" y2="428" stroke="#000" stroke-width="1" stroke-dasharray="2,2"/>
<line x1="398.5" y1="350" x2="398.5" y2="428" stroke="#000" stroke-width="1" stroke-dasharray="2,2"/>
<line x1="419.5" y1="350" x2="419.5" y2="428" stroke="#000" stroke-width="1" stroke-dasharray="2,2"/>
<line x1="440.5" y1="350" x2="440.5" y2="428" stroke="#000" stroke-width="1" stroke-dasharray="2,2"/>
<line x1="462.5" y1="350" x2="462.5" y2="428" stroke="#000" stroke-width="1" stroke-dasharray="2,2"/>
<line x1="483.5" y1="350" x2="483.5" y2="428" stroke="#000" stroke-width="1" stroke-dasharray="2,2"/>
<line x1="504.5" y1="350" x2="504.5" y2="428" stroke="#000" stroke-width="1" stroke-dasharray="2,2"/>
<line x1="525.5" y1="350" x2="525.5" y2="428" stroke="#000" stroke-width="1" stroke-dasharray="2,2"/>
<line x1="546.5" y1="350" x2="546.5" y2="428" stroke="#000" stroke-width="1" stroke-dasharray="2,2"/>
<line x1="567.5" y1="350" x2="567.5" y2="428" stroke="#000" stroke-width="1" stroke-dasharray="2,2"/>
<line x1="588.5" y1="350" x2="588.5" y2="428" stroke="#000" stroke-width="1" stroke-dasharray="2,2"/>
<line x1="609.5" y1="350" x2="609.5" y2="428" stroke="#000" stroke-width="1" stroke-dasharray="2,2"/>
<line x1="630.5" y1="350" x2="630.5" y2="428" stroke="#000" stroke-width="1" stroke-dasharray="2,2"/>
<line x1="651.5" y1="350" x2="651.5" y2="428" stroke="#000" stroke-width="1" stroke-dasharray="2,2"/>
<line x1="673.5" y1="350" x2="673.5" y2="428" stroke="#000" stroke-width="1" stroke-dasharray="2,2"/>
<line x1="694.5" y1="350" x2="694.5" y2="428" stroke="#000" stroke-width="1" stroke-dasharray="2,2"/>
<line x1="715.5" y1="350" x2="715.5" y2="428" stroke="#000" stroke-width="1" stroke-dasharray="2,2"/>
<line x1="736.5" y1="350" x2="736.5" y2="428" stroke="#000" stroke-width="1" stroke-dasharray="2,2"/>
<line x1="342" y1="354.5" x2="757" y2="354.5" stroke="#000" stroke-width="1" stroke-dasharray="2,2"/>
<line x1="342" y1="375.5" x2="757" y2="375.5" stroke="#000" stroke-width="1" stroke-dasharray="2,2"/>
<line x1="342" y1="396.5" x2="757" y2="396.5" stroke="#000" stroke-width="1" stroke-dasharray="2,2"/>
<line x1="342" y1="416.5" x2="757" y2="416.5" stroke="#000" stroke-width="1" stroke-dasharray="2,2"/>
<path d="M342.00,359.70 L346.43,359.38 L352.74,358.99 L359.00,359.00 L364.54,359.65 L370.02,360.71 L375.50,362.00 L380.64,363.64 L385.77,365.51 L392.00,367.00 L400.16,367.76 L409.41,368.14 L418.30,368.60 L426.45,369.40 L434.24,370.28 L441.30,370.90 L447.53,371.00 L453.03,370.84 L457.80,370.90 L461.41,371.23 L464.28,371.78 L467.70,372.90 L472.39,375.05 L477.63,377.76 L482.50,380.00 L486.39,381.31 L489.92,382.14 L494.00,382.80 L499.13,383.20 L504.81,383.42 L510.50,384.00 L515.91,385.17 L521.31,386.70 L527.00,388.40 L532.80,390.18 L538.87,392.13 L546.00,394.30 L554.50,397.10 L564.06,400.12 L574.50,402.20 L586.02,402.44 L598.43,401.74 L611.00,401.60 L623.79,402.97 L636.74,404.89 L649.00,406.00 L659.91,405.38 L670.13,403.95 L680.70,403.10 L692.45,403.54 L704.55,404.57 L715.60,405.40 L725.12,405.96 L733.58,406.34 L741.00,406.00 L747.62,404.33 L753.20,401.94 L757.00,400.20" stroke="#000" stroke-width="2" fill="none" />
<rect x="342.5" y="350.5" width="415" height="78" fill="none" stroke="#000" stroke-width="1"/>
<text x="337.5" y="359.0" font-size="11.5" fill="#000" text-anchor="end" font-weight="normal" textLength="23.5" lengthAdjust="spacingAndGlyphs" >1025</text>
<text x="337.5" y="379.665" font-size="11.5" fill="#000" text-anchor="end" font-weight="normal" textLength="23.5" lengthAdjust="spacingAndGlyphs" >1020</text>
<text x="337.5" y="400.33" font-size="11.5" fill="#000" text-anchor="end" font-weight="normal" textLength="23.5" lengthAdjust="spacingAndGlyphs" >1015</text>
<text x="337.5" y="420.995" font-size="11.5" fill="#000" text-anchor="end" font-weight="normal" textLength="23.5" lengthAdjust="spacingAndGlyphs" >1010</text>
<text x="770.5" y="359.0" font-size="11.5" fill="#000" text-anchor="middle" font-weight="normal" textLength="17.4" lengthAdjust="spacingAndGlyphs" >769</text>
<text x="770.5" y="379.665" font-size="11.5" fill="#000" text-anchor="middle" font-weight="normal" textLength="17.4" lengthAdjust="spacingAndGlyphs" >765</text>
<text x="770.5" y="400.33" font-size="11.5" fill="#000" text-anchor="middle" font-weight="normal" textLength="17.4" lengthAdjust="spacingAndGlyphs" >761</text>
<text x="770.5" y="420.995" font-size="11.5" fill="#000" text-anchor="middle" font-weight="normal" textLength="17.4" lengthAdjust="spacingAndGlyphs" >758</text>
<rect x="342" y="437" width="415" height="77" fill="#ffffff"/>
<rect x="413.4" y="437" width="77.5" height="77" fill="#e6e6e6"/>
<rect x="582.2" y="437" width="77.5" height="77" fill="#e6e6e6"/>
<rect x="751.0" y="437" width="6.0" height="77" fill="#e6e6e6"/>
<clipPath id="cpWind"><path d="M342.6,490.4 L356.6,486.3 L375.9,487.6 L384.8,490.4 L398.9,492.2 L413.0,497.3 L427.0,494.2 L442.4,495.5 L460.4,500.6 L475.7,499.9 L493.6,503.7 L511.6,508.8 L527.0,506.3 L545.0,504.0 L566.0,501.5 L581.7,502.8 L602.7,501.0 L623.7,506.7 L636.8,505.4 L651.2,508.6 L659.0,505.4 L673.5,508.6 L684.0,502.3 L699.7,495.7 L710.2,493.1 L723.3,493.6 L729.8,487.8 L736.4,490.2 L743.0,487.8 L757.0,491.8 L757,515 L342,515Z"/></clipPath>
<g clip-path="url(#cpWind)">
<rect x="342" y="470" width="7" height="46" fill="#004080"/>
<rect x="349" y="470" width="35" height="46" fill="#008000"/>
<rect x="384" y="470" width="21" height="46" fill="#004080"/>
<rect x="405" y="470" width="22" height="46" fill="#0080ff"/>
<rect x="427" y="470" width="6" height="46" fill="#004080"/>
<rect x="433" y="470" width="21" height="46" fill="#0080ff"/>
<rect x="454" y="470" width="42" height="46" fill="#00c0ff"/>
<rect x="496" y="470" width="42" height="46" fill="#00e8ff"/>
<rect x="538" y="470" width="77" height="46" fill="#00c0ff"/>
<rect x="615" y="470" width="65" height="46" fill="#00ffff"/>
<rect x="680" y="470" width="15" height="46" fill="#00c0ff"/>
<rect x="695" y="470" width="5" height="46" fill="#0080ff"/>
<rect x="700" y="470" width="28" height="46" fill="#004080"/>
<rect x="728" y="470" width="8" height="46" fill="#008000"/>
<rect x="736" y="470" width="6" height="46" fill="#004080"/>
<rect x="742" y="470" width="8" height="46" fill="#008000"/>
<rect x="750" y="470" width="7" height="46" fill="#004080"/>
</g>
<line x1="356.5" y1="437" x2="356.5" y2="514" stroke="#000" stroke-width="1" stroke-dasharray="2,2"/>
<line x1="377.5" y1="437" x2="377.5" y2="514" stroke="#000" stroke-width="1" stroke-dasharray="2,2"/>
<line x1="398.5" y1="437" x2="398.5" y2="514" stroke="#000" stroke-width="1" stroke-dasharray="2,2"/>
<line x1="419.5" y1="437" x2="419.5" y2="514" stroke="#000" stroke-width="1" stroke-dasharray="2,2"/>
<line x1="440.5" y1="437" x2="440.5" y2="514" stroke="#000" stroke-width="1" stroke-dasharray="2,2"/>
<line x1="462.5" y1="437" x2="462.5" y2="514" stroke="#000" stroke-width="1" stroke-dasharray="2,2"/>
<line x1="483.5" y1="437" x2="483.5" y2="514" stroke="#000" stroke-width="1" stroke-dasharray="2,2"/>
<line x1="504.5" y1="437" x2="504.5" y2="514" stroke="#000" stroke-width="1" stroke-dasharray="2,2"/>
<line x1="525.5" y1="437" x2="525.5" y2="514" stroke="#000" stroke-width="1" stroke-dasharray="2,2"/>
<line x1="546.5" y1="437" x2="546.5" y2="514" stroke="#000" stroke-width="1" stroke-dasharray="2,2"/>
<line x1="567.5" y1="437" x2="567.5" y2="514" stroke="#000" stroke-width="1" stroke-dasharray="2,2"/>
<line x1="588.5" y1="437" x2="588.5" y2="514" stroke="#000" stroke-width="1" stroke-dasharray="2,2"/>
<line x1="609.5" y1="437" x2="609.5" y2="514" stroke="#000" stroke-width="1" stroke-dasharray="2,2"/>
<line x1="630.5" y1="437" x2="630.5" y2="514" stroke="#000" stroke-width="1" stroke-dasharray="2,2"/>
<line x1="651.5" y1="437" x2="651.5" y2="514" stroke="#000" stroke-width="1" stroke-dasharray="2,2"/>
<line x1="673.5" y1="437" x2="673.5" y2="514" stroke="#000" stroke-width="1" stroke-dasharray="2,2"/>
<line x1="694.5" y1="437" x2="694.5" y2="514" stroke="#000" stroke-width="1" stroke-dasharray="2,2"/>
<line x1="715.5" y1="437" x2="715.5" y2="514" stroke="#000" stroke-width="1" stroke-dasharray="2,2"/>
<line x1="736.5" y1="437" x2="736.5" y2="514" stroke="#000" stroke-width="1" stroke-dasharray="2,2"/>
<line x1="342" y1="438.5" x2="757" y2="438.5" stroke="#000" stroke-width="1" stroke-dasharray="2,2"/>
<line x1="342" y1="464.5" x2="757" y2="464.5" stroke="#000" stroke-width="1" stroke-dasharray="2,2"/>
<line x1="342" y1="489.5" x2="757" y2="489.5" stroke="#000" stroke-width="1" stroke-dasharray="2,2"/>
<line x1="342" y1="514.5" x2="757" y2="514.5" stroke="#000" stroke-width="1" stroke-dasharray="2,2"/>
<path d="M342.60,490.40 L356.60,486.30 L375.90,487.60 L384.80,490.40 L398.90,492.20 L413.00,497.30 L427.00,494.20 L442.40,495.50 L460.40,500.60 L475.70,499.90 L493.60,503.70 L511.60,508.80 L527.00,506.30 L545.00,504.00 L566.00,501.50 L581.70,502.80 L602.70,501.00 L623.70,506.70 L636.80,505.40 L651.20,508.60 L659.00,505.40 L673.50,508.60 L684.00,502.30 L699.70,495.70 L710.20,493.10 L723.30,493.60 L729.80,487.80 L736.40,490.20 L743.00,487.80 L757.00,491.80" stroke="#000096" stroke-width="2.2" fill="none" />
<line x1="342.5" y1="464.5" x2="348.5" y2="464.5" stroke="#ff0000" stroke-width="1"/>
<line x1="349.5" y1="459.5" x2="376.5" y2="459.5" stroke="#ff0000" stroke-width="1"/>
<line x1="377.5" y1="460.5" x2="384.5" y2="460.5" stroke="#ff0000" stroke-width="1"/>
<line x1="385.5" y1="464.5" x2="397.5" y2="464.5" stroke="#ff0000" stroke-width="1"/>
<line x1="398.5" y1="467.5" x2="404.5" y2="467.5" stroke="#ff0000" stroke-width="1"/>
<line x1="405.5" y1="474.5" x2="412.5" y2="474.5" stroke="#ff0000" stroke-width="1"/>
<line x1="413.5" y1="479.5" x2="418.5" y2="479.5" stroke="#ff0000" stroke-width="1"/>
<line x1="419.5" y1="479.5" x2="426.5" y2="479.5" stroke="#ff0000" stroke-width="1"/>
<line x1="427.5" y1="478.5" x2="434.5" y2="478.5" stroke="#ff0000" stroke-width="1"/>
<line x1="435.5" y1="478.5" x2="441.5" y2="478.5" stroke="#ff0000" stroke-width="1"/>
<line x1="442.5" y1="479.5" x2="449.5" y2="479.5" stroke="#ff0000" stroke-width="1"/>
<line x1="450.5" y1="479.5" x2="454.5" y2="479.5" stroke="#ff0000" stroke-width="1"/>
<line x1="455.5" y1="484.5" x2="462.5" y2="484.5" stroke="#ff0000" stroke-width="1"/>
<line x1="463.5" y1="485.5" x2="469.5" y2="485.5" stroke="#ff0000" stroke-width="1"/>
<line x1="470.5" y1="484.5" x2="483.5" y2="484.5" stroke="#ff0000" stroke-width="1"/>
<line x1="484.5" y1="485.5" x2="489.5" y2="485.5" stroke="#ff0000" stroke-width="1"/>
<line x1="490.5" y1="487.5" x2="497.5" y2="487.5" stroke="#ff0000" stroke-width="1"/>
<line x1="498.5" y1="489.5" x2="503.5" y2="489.5" stroke="#ff0000" stroke-width="1"/>
<line x1="504.5" y1="491.5" x2="510.5" y2="491.5" stroke="#ff0000" stroke-width="1"/>
<line x1="511.5" y1="490.5" x2="518.5" y2="490.5" stroke="#ff0000" stroke-width="1"/>
<line x1="519.5" y1="488.5" x2="524.5" y2="488.5" stroke="#ff0000" stroke-width="1"/>
<line x1="525.5" y1="486.5" x2="531.5" y2="486.5" stroke="#ff0000" stroke-width="1"/>
<line x1="532.5" y1="483.5" x2="539.5" y2="483.5" stroke="#ff0000" stroke-width="1"/>
<line x1="540.5" y1="482.5" x2="549.5" y2="482.5" stroke="#ff0000" stroke-width="1"/>
<line x1="545.5" y1="481.5" x2="553.5" y2="481.5" stroke="#ff0000" stroke-width="1"/>
<line x1="554.5" y1="483.5" x2="566.5" y2="483.5" stroke="#ff0000" stroke-width="1"/>
<line x1="567.5" y1="486.5" x2="574.5" y2="486.5" stroke="#ff0000" stroke-width="1"/>
<line x1="575.5" y1="488.5" x2="581.5" y2="488.5" stroke="#ff0000" stroke-width="1"/>
<line x1="582.5" y1="490.5" x2="594.5" y2="490.5" stroke="#ff0000" stroke-width="1"/>
<line x1="595.5" y1="492.5" x2="608.5" y2="492.5" stroke="#ff0000" stroke-width="1"/>
<line x1="609.5" y1="494.5" x2="623.5" y2="494.5" stroke="#ff0000" stroke-width="1"/>
<line x1="624.5" y1="498.5" x2="629.5" y2="498.5" stroke="#ff0000" stroke-width="1"/>
<line x1="630.5" y1="502.5" x2="644.5" y2="502.5" stroke="#ff0000" stroke-width="1"/>
<line x1="645.5" y1="498.5" x2="650.5" y2="498.5" stroke="#ff0000" stroke-width="1"/>
<line x1="651.5" y1="495.5" x2="665.5" y2="495.5" stroke="#ff0000" stroke-width="1"/>
<line x1="666.5" y1="491.5" x2="672.5" y2="491.5" stroke="#ff0000" stroke-width="1"/>
<line x1="673.5" y1="488.5" x2="679.5" y2="488.5" stroke="#ff0000" stroke-width="1"/>
<line x1="680.5" y1="482.5" x2="687.5" y2="482.5" stroke="#ff0000" stroke-width="1"/>
<line x1="688.5" y1="474.5" x2="694.5" y2="474.5" stroke="#ff0000" stroke-width="1"/>
<line x1="695.5" y1="470.5" x2="701.5" y2="470.5" stroke="#ff0000" stroke-width="1"/>
<line x1="702.5" y1="464.5" x2="708.5" y2="464.5" stroke="#ff0000" stroke-width="1"/>
<line x1="709.5" y1="463.5" x2="714.5" y2="463.5" stroke="#ff0000" stroke-width="1"/>
<line x1="715.5" y1="465.5" x2="722.5" y2="465.5" stroke="#ff0000" stroke-width="1"/>
<line x1="723.5" y1="458.5" x2="729.5" y2="458.5" stroke="#ff0000" stroke-width="1"/>
<line x1="730.5" y1="459.5" x2="736.5" y2="459.5" stroke="#ff0000" stroke-width="1"/>
<line x1="737.5" y1="460.5" x2="742.5" y2="460.5" stroke="#ff0000" stroke-width="1"/>
<line x1="743.5" y1="463.5" x2="750.5" y2="463.5" stroke="#ff0000" stroke-width="1"/>
<line x1="751.5" y1="456.5" x2="756.5" y2="456.5" stroke="#ff0000" stroke-width="1"/>
<rect x="342.5" y="437.5" width="415" height="77" fill="none" stroke="#000" stroke-width="1"/>
<text x="337.5" y="442.995" font-size="11.5" fill="#000" text-anchor="end" font-weight="normal" textLength="11.8" lengthAdjust="spacingAndGlyphs" >15</text>
<text x="337.5" y="468.33" font-size="11.5" fill="#000" text-anchor="end" font-weight="normal" textLength="11.8" lengthAdjust="spacingAndGlyphs" >10</text>
<text x="337.5" y="493.665" font-size="11.5" fill="#000" text-anchor="end" font-weight="normal" textLength="5.9" lengthAdjust="spacingAndGlyphs" >5</text>
<text x="337.5" y="519.0" font-size="11.5" fill="#000" text-anchor="end" font-weight="normal" textLength="5.9" lengthAdjust="spacingAndGlyphs" >0</text>
<text x="767.5" y="442.995" font-size="11.5" fill="#000" text-anchor="middle" font-weight="normal" textLength="11.8" lengthAdjust="spacingAndGlyphs" >54</text>
<text x="767.5" y="468.33" font-size="11.5" fill="#000" text-anchor="middle" font-weight="normal" textLength="11.8" lengthAdjust="spacingAndGlyphs" >36</text>
<text x="767.5" y="493.665" font-size="11.5" fill="#000" text-anchor="middle" font-weight="normal" textLength="11.8" lengthAdjust="spacingAndGlyphs" >18</text>
<text x="767.5" y="519.0" font-size="11.5" fill="#000" text-anchor="middle" font-weight="normal" textLength="5.9" lengthAdjust="spacingAndGlyphs" >0</text>
<rect x="342" y="521" width="415" height="30" fill="#ffffff"/>
<rect x="413.4" y="521" width="77.5" height="30" fill="#e6e6e6"/>
<rect x="582.2" y="521" width="77.5" height="30" fill="#e6e6e6"/>
<rect x="751.0" y="521" width="6.0" height="30" fill="#e6e6e6"/>
<line x1="356.5" y1="521" x2="356.5" y2="551" stroke="#000" stroke-width="1" stroke-dasharray="2,2"/>
<line x1="377.5" y1="521" x2="377.5" y2="551" stroke="#000" stroke-width="1" stroke-dasharray="2,2"/>
<line x1="398.5" y1="521" x2="398.5" y2="551" stroke="#000" stroke-width="1" stroke-dasharray="2,2"/>
<line x1="419.5" y1="521" x2="419.5" y2="551" stroke="#000" stroke-width="1" stroke-dasharray="2,2"/>
<line x1="440.5" y1="521" x2="440.5" y2="551" stroke="#000" stroke-width="1" stroke-dasharray="2,2"/>
<line x1="462.5" y1="521" x2="462.5" y2="551" stroke="#000" stroke-width="1" stroke-dasharray="2,2"/>
<line x1="483.5" y1="521" x2="483.5" y2="551" stroke="#000" stroke-width="1" stroke-dasharray="2,2"/>
<line x1="504.5" y1="521" x2="504.5" y2="551" stroke="#000" stroke-width="1" stroke-dasharray="2,2"/>
<line x1="525.5" y1="521" x2="525.5" y2="551" stroke="#000" stroke-width="1" stroke-dasharray="2,2"/>
<line x1="546.5" y1="521" x2="546.5" y2="551" stroke="#000" stroke-width="1" stroke-dasharray="2,2"/>
<line x1="567.5" y1="521" x2="567.5" y2="551" stroke="#000" stroke-width="1" stroke-dasharray="2,2"/>
<line x1="588.5" y1="521" x2="588.5" y2="551" stroke="#000" stroke-width="1" stroke-dasharray="2,2"/>
<line x1="609.5" y1="521" x2="609.5" y2="551" stroke="#000" stroke-width="1" stroke-dasharray="2,2"/>
<line x1="630.5" y1="521" x2="630.5" y2="551" stroke="#000" stroke-width="1" stroke-dasharray="2,2"/>
<line x1="651.5" y1="521" x2="651.5" y2="551" stroke="#000" stroke-width="1" stroke-dasharray="2,2"/>
<line x1="673.5" y1="521" x2="673.5" y2="551" stroke="#000" stroke-width="1" stroke-dasharray="2,2"/>
<line x1="694.5" y1="521" x2="694.5" y2="551" stroke="#000" stroke-width="1" stroke-dasharray="2,2"/>
<line x1="715.5" y1="521" x2="715.5" y2="551" stroke="#000" stroke-width="1" stroke-dasharray="2,2"/>
<line x1="736.5" y1="521" x2="736.5" y2="551" stroke="#000" stroke-width="1" stroke-dasharray="2,2"/>
<line x1="339.5" y1="530.2" x2="343.3" y2="538.3" stroke="#0000a0" stroke-width="1.3"/>
<path d="M345.5,542.8 L341.0,539.4 L345.7,537.2Z" fill="#0000a0"/>
<line x1="346.8" y1="530.0" x2="350.3" y2="538.3" stroke="#0000a0" stroke-width="1.3"/>
<path d="M352.2,543.0 L347.9,539.3 L352.7,537.3Z" fill="#0000a0"/>
<line x1="354.1" y1="529.9" x2="357.2" y2="538.4" stroke="#0000a0" stroke-width="1.3"/>
<path d="M358.9,543.1 L354.8,539.3 L359.6,537.5Z" fill="#0000a0"/>
<line x1="361.3" y1="529.8" x2="364.1" y2="538.4" stroke="#0000a0" stroke-width="1.3"/>
<path d="M365.7,543.2 L361.6,539.2 L366.6,537.6Z" fill="#0000a0"/>
<line x1="368.9" y1="529.7" x2="370.9" y2="538.4" stroke="#0000a0" stroke-width="1.3"/>
<path d="M372.1,543.3 L368.4,539.0 L373.5,537.9Z" fill="#0000a0"/>
<line x1="376.5" y1="529.6" x2="377.8" y2="538.5" stroke="#0000a0" stroke-width="1.3"/>
<path d="M378.5,543.4 L375.2,538.8 L380.4,538.1Z" fill="#0000a0"/>
<line x1="383.7" y1="529.5" x2="384.7" y2="538.5" stroke="#0000a0" stroke-width="1.3"/>
<path d="M385.3,543.5 L382.1,538.8 L387.3,538.2Z" fill="#0000a0"/>
<line x1="390.9" y1="529.5" x2="391.7" y2="538.5" stroke="#0000a0" stroke-width="1.3"/>
<path d="M392.1,543.5 L389.1,538.7 L394.3,538.3Z" fill="#0000a0"/>
<line x1="398.1" y1="529.5" x2="398.6" y2="538.5" stroke="#0000a0" stroke-width="1.3"/>
<path d="M398.9,543.5 L396.0,538.7 L401.2,538.3Z" fill="#0000a0"/>
<line x1="405.3" y1="529.5" x2="405.6" y2="538.5" stroke="#0000a0" stroke-width="1.3"/>
<path d="M405.7,543.5 L403.0,538.6 L408.2,538.4Z" fill="#0000a0"/>
<line x1="410.7" y1="529.7" x2="413.0" y2="538.4" stroke="#0000a0" stroke-width="1.3"/>
<path d="M414.3,543.3 L410.5,539.1 L415.5,537.8Z" fill="#0000a0"/>
<line x1="417.6" y1="529.8" x2="420.0" y2="538.4" stroke="#0000a0" stroke-width="1.3"/>
<path d="M421.4,543.2 L417.5,539.1 L422.5,537.7Z" fill="#0000a0"/>
<line x1="424.5" y1="529.8" x2="427.1" y2="538.4" stroke="#0000a0" stroke-width="1.3"/>
<path d="M428.5,543.2 L424.6,539.2 L429.6,537.7Z" fill="#0000a0"/>
<line x1="432.4" y1="529.8" x2="435.1" y2="538.4" stroke="#0000a0" stroke-width="1.3"/>
<path d="M436.6,543.2 L432.6,539.2 L437.6,537.6Z" fill="#0000a0"/>
<line x1="439.3" y1="529.8" x2="442.1" y2="538.4" stroke="#0000a0" stroke-width="1.3"/>
<path d="M443.7,543.2 L439.6,539.2 L444.6,537.6Z" fill="#0000a0"/>
<line x1="446.5" y1="529.8" x2="449.1" y2="538.4" stroke="#0000a0" stroke-width="1.3"/>
<path d="M450.5,543.2 L446.6,539.2 L451.6,537.7Z" fill="#0000a0"/>
<line x1="453.7" y1="529.7" x2="456.0" y2="538.4" stroke="#0000a0" stroke-width="1.3"/>
<path d="M457.3,543.3 L453.5,539.1 L458.5,537.8Z" fill="#0000a0"/>
<line x1="460.9" y1="529.7" x2="463.0" y2="538.4" stroke="#0000a0" stroke-width="1.3"/>
<path d="M464.1,543.3 L460.4,539.0 L465.5,537.9Z" fill="#0000a0"/>
<line x1="468.1" y1="529.6" x2="469.9" y2="538.5" stroke="#0000a0" stroke-width="1.3"/>
<path d="M470.9,543.4 L467.4,539.0 L472.4,537.9Z" fill="#0000a0"/>
<line x1="475.3" y1="529.6" x2="476.8" y2="538.5" stroke="#0000a0" stroke-width="1.3"/>
<path d="M477.7,543.4 L474.3,538.9 L479.4,538.0Z" fill="#0000a0"/>
<line x1="483.3" y1="529.5" x2="483.6" y2="538.5" stroke="#0000a0" stroke-width="1.3"/>
<path d="M483.7,543.5 L481.0,538.6 L486.2,538.4Z" fill="#0000a0"/>
<line x1="490.3" y1="529.5" x2="490.6" y2="538.5" stroke="#0000a0" stroke-width="1.3"/>
<path d="M490.7,543.5 L488.0,538.6 L493.2,538.4Z" fill="#0000a0"/>
<line x1="497.4" y1="529.5" x2="497.5" y2="538.5" stroke="#0000a0" stroke-width="1.3"/>
<path d="M497.6,543.5 L494.9,538.6 L500.1,538.4Z" fill="#0000a0"/>
<line x1="504.4" y1="529.5" x2="504.5" y2="538.5" stroke="#0000a0" stroke-width="1.3"/>
<path d="M504.6,543.5 L501.9,538.5 L507.1,538.5Z" fill="#0000a0"/>
<line x1="511.5" y1="529.5" x2="511.5" y2="538.5" stroke="#0000a0" stroke-width="1.3"/>
<path d="M511.5,543.5 L508.9,538.5 L514.1,538.5Z" fill="#0000a0"/>
<line x1="518.5" y1="529.5" x2="518.5" y2="538.5" stroke="#0000a0" stroke-width="1.3"/>
<path d="M518.5,543.5 L515.9,538.5 L521.1,538.5Z" fill="#0000a0"/>
<line x1="527.7" y1="529.8" x2="524.9" y2="538.4" stroke="#0000a0" stroke-width="1.3"/>
<path d="M523.3,543.2 L522.4,537.6 L527.4,539.2Z" fill="#0000a0"/>
<line x1="536.2" y1="530.6" x2="531.4" y2="538.2" stroke="#0000a0" stroke-width="1.3"/>
<path d="M528.8,542.4 L529.2,536.8 L533.6,539.6Z" fill="#0000a0"/>
<line x1="543.2" y1="530.6" x2="538.4" y2="538.2" stroke="#0000a0" stroke-width="1.3"/>
<path d="M535.8,542.4 L536.2,536.8 L540.6,539.6Z" fill="#0000a0"/>
<line x1="550.2" y1="530.6" x2="545.4" y2="538.2" stroke="#0000a0" stroke-width="1.3"/>
<path d="M542.8,542.4 L543.2,536.8 L547.6,539.6Z" fill="#0000a0"/>
<line x1="557.2" y1="530.6" x2="552.4" y2="538.2" stroke="#0000a0" stroke-width="1.3"/>
<path d="M549.8,542.4 L550.2,536.8 L554.6,539.6Z" fill="#0000a0"/>
<line x1="564.2" y1="530.6" x2="559.4" y2="538.2" stroke="#0000a0" stroke-width="1.3"/>
<path d="M556.8,542.4 L557.2,536.8 L561.6,539.6Z" fill="#0000a0"/>
<line x1="571.2" y1="530.6" x2="566.4" y2="538.2" stroke="#0000a0" stroke-width="1.3"/>
<path d="M563.8,542.4 L564.2,536.8 L568.6,539.6Z" fill="#0000a0"/>
<line x1="578.2" y1="530.6" x2="573.4" y2="538.2" stroke="#0000a0" stroke-width="1.3"/>
<path d="M570.8,542.4 L571.2,536.8 L575.6,539.6Z" fill="#0000a0"/>
<line x1="585.2" y1="530.6" x2="580.4" y2="538.2" stroke="#0000a0" stroke-width="1.3"/>
<path d="M577.8,542.4 L578.2,536.8 L582.6,539.6Z" fill="#0000a0"/>
<line x1="588.5" y1="529.5" x2="588.5" y2="538.5" stroke="#0000a0" stroke-width="1.3"/>
<path d="M588.5,543.5 L585.9,538.5 L591.1,538.5Z" fill="#0000a0"/>
<line x1="595.6" y1="529.5" x2="595.5" y2="538.5" stroke="#0000a0" stroke-width="1.3"/>
<path d="M595.4,543.5 L592.9,538.5 L598.1,538.5Z" fill="#0000a0"/>
<line x1="602.7" y1="529.5" x2="602.4" y2="538.5" stroke="#0000a0" stroke-width="1.3"/>
<path d="M602.3,543.5 L599.8,538.4 L605.0,538.6Z" fill="#0000a0"/>
<line x1="613.5" y1="530.2" x2="609.7" y2="538.3" stroke="#0000a0" stroke-width="1.3"/>
<path d="M607.5,542.8 L607.3,537.2 L612.0,539.4Z" fill="#0000a0"/>
<line x1="620.8" y1="530.3" x2="616.6" y2="538.3" stroke="#0000a0" stroke-width="1.3"/>
<path d="M614.2,542.7 L614.3,537.0 L618.9,539.5Z" fill="#0000a0"/>
<line x1="626.0" y1="529.7" x2="624.1" y2="538.5" stroke="#0000a0" stroke-width="1.3"/>
<path d="M623.0,543.3 L621.5,537.9 L626.6,539.0Z" fill="#0000a0"/>
<line x1="627.8" y1="530.6" x2="632.6" y2="538.2" stroke="#0000a0" stroke-width="1.3"/>
<path d="M635.2,542.4 L630.4,539.6 L634.8,536.8Z" fill="#0000a0"/>
<line x1="632.4" y1="533.0" x2="640.2" y2="537.5" stroke="#0000a0" stroke-width="1.3"/>
<path d="M644.6,540.0 L638.9,539.8 L641.5,535.2Z" fill="#0000a0"/>
<line x1="638.5" y1="536.5" x2="647.5" y2="536.5" stroke="#0000a0" stroke-width="1.3"/>
<path d="M652.5,536.5 L647.5,539.1 L647.5,533.9Z" fill="#0000a0"/>
<line x1="645.9" y1="538.9" x2="654.4" y2="535.8" stroke="#0000a0" stroke-width="1.3"/>
<path d="M659.1,534.1 L655.3,538.3 L653.5,533.4Z" fill="#0000a0"/>
<line x1="654.6" y1="541.4" x2="660.9" y2="535.1" stroke="#0000a0" stroke-width="1.3"/>
<path d="M664.4,531.6 L662.8,536.9 L659.1,533.2Z" fill="#0000a0"/>
<line x1="662.0" y1="541.9" x2="667.8" y2="535.0" stroke="#0000a0" stroke-width="1.3"/>
<path d="M671.0,531.1 L669.8,536.6 L665.8,533.3Z" fill="#0000a0"/>
<line x1="669.5" y1="542.2" x2="674.6" y2="534.9" stroke="#0000a0" stroke-width="1.3"/>
<path d="M677.5,530.8 L676.8,536.4 L672.5,533.4Z" fill="#0000a0"/>
<line x1="676.0" y1="541.9" x2="681.8" y2="535.0" stroke="#0000a0" stroke-width="1.3"/>
<path d="M685.0,531.1 L683.8,536.6 L679.8,533.3Z" fill="#0000a0"/>
<line x1="682.6" y1="541.4" x2="688.9" y2="535.1" stroke="#0000a0" stroke-width="1.3"/>
<path d="M692.4,531.6 L690.8,536.9 L687.1,533.2Z" fill="#0000a0"/>
<line x1="688.4" y1="540.0" x2="696.2" y2="535.5" stroke="#0000a0" stroke-width="1.3"/>
<path d="M700.6,533.0 L697.5,537.8 L694.9,533.2Z" fill="#0000a0"/>
<line x1="694.8" y1="538.7" x2="703.4" y2="535.9" stroke="#0000a0" stroke-width="1.3"/>
<path d="M708.2,534.3 L704.2,538.4 L702.6,533.4Z" fill="#0000a0"/>
<line x1="701.6" y1="537.7" x2="710.5" y2="536.2" stroke="#0000a0" stroke-width="1.3"/>
<path d="M715.4,535.3 L710.9,538.7 L710.0,533.6Z" fill="#0000a0"/>
<line x1="708.5" y1="537.1" x2="717.5" y2="536.3" stroke="#0000a0" stroke-width="1.3"/>
<path d="M722.5,535.9 L717.7,538.9 L717.3,533.7Z" fill="#0000a0"/>
<line x1="715.5" y1="536.5" x2="724.5" y2="536.5" stroke="#0000a0" stroke-width="1.3"/>
<path d="M729.5,536.5 L724.5,539.1 L724.5,533.9Z" fill="#0000a0"/>
<line x1="722.5" y1="535.9" x2="731.5" y2="536.7" stroke="#0000a0" stroke-width="1.3"/>
<path d="M736.5,537.1 L731.3,539.3 L731.7,534.1Z" fill="#0000a0"/>
<line x1="729.6" y1="535.3" x2="738.5" y2="536.8" stroke="#0000a0" stroke-width="1.3"/>
<path d="M743.4,537.7 L738.0,539.4 L738.9,534.3Z" fill="#0000a0"/>
<line x1="737.2" y1="533.5" x2="745.3" y2="537.3" stroke="#0000a0" stroke-width="1.3"/>
<path d="M749.8,539.5 L744.2,539.7 L746.4,535.0Z" fill="#0000a0"/>
<line x1="747.0" y1="530.4" x2="751.5" y2="538.2" stroke="#0000a0" stroke-width="1.3"/>
<path d="M754.0,542.6 L749.2,539.5 L753.8,536.9Z" fill="#0000a0"/>
<line x1="754.0" y1="530.4" x2="758.5" y2="538.2" stroke="#0000a0" stroke-width="1.3"/>
<path d="M761.0,542.6 L756.2,539.5 L760.8,536.9Z" fill="#0000a0"/>
<line x1="342" y1="521.5" x2="757" y2="521.5" stroke="#000" stroke-width="1"/>
<line x1="342" y1="551.5" x2="757" y2="551.5" stroke="#808080" stroke-width="2"/>
<line x1="342.5" y1="521" x2="342.5" y2="552" stroke="#000" stroke-width="1"/>
<line x1="757.5" y1="521" x2="757.5" y2="552" stroke="#000" stroke-width="1"/>
<rect x="342" y="558" width="415" height="78" fill="#88d4fb"/>
<rect x="413.4" y="558" width="77.5" height="78" fill="#76bde9"/>
<rect x="582.2" y="558" width="77.5" height="78" fill="#76bde9"/>
<rect x="751.0" y="558" width="6.0" height="78" fill="#76bde9"/>
<line x1="356.5" y1="558" x2="356.5" y2="636" stroke="#000" stroke-width="1" stroke-dasharray="2,2"/>
<line x1="377.5" y1="558" x2="377.5" y2="636" stroke="#000" stroke-width="1" stroke-dasharray="2,2"/>
<line x1="398.5" y1="558" x2="398.5" y2="636" stroke="#000" stroke-width="1" stroke-dasharray="2,2"/>
<line x1="419.5" y1="558" x2="419.5" y2="636" stroke="#000" stroke-width="1" stroke-dasharray="2,2"/>
<line x1="440.5" y1="558" x2="440.5" y2="636" stroke="#000" stroke-width="1" stroke-dasharray="2,2"/>
<line x1="462.5" y1="558" x2="462.5" y2="636" stroke="#000" stroke-width="1" stroke-dasharray="2,2"/>
<line x1="483.5" y1="558" x2="483.5" y2="636" stroke="#000" stroke-width="1" stroke-dasharray="2,2"/>
<line x1="504.5" y1="558" x2="504.5" y2="636" stroke="#000" stroke-width="1" stroke-dasharray="2,2"/>
<line x1="525.5" y1="558" x2="525.5" y2="636" stroke="#000" stroke-width="1" stroke-dasharray="2,2"/>
<line x1="546.5" y1="558" x2="546.5" y2="636" stroke="#000" stroke-width="1" stroke-dasharray="2,2"/>
<line x1="567.5" y1="558" x2="567.5" y2="636" stroke="#000" stroke-width="1" stroke-dasharray="2,2"/>
<line x1="588.5" y1="558" x2="588.5" y2="636" stroke="#000" stroke-width="1" stroke-dasharray="2,2"/>
<line x1="609.5" y1="558" x2="609.5" y2="636" stroke="#000" stroke-width="1" stroke-dasharray="2,2"/>
<line x1="630.5" y1="558" x2="630.5" y2="636" stroke="#000" stroke-width="1" stroke-dasharray="2,2"/>
<line x1="651.5" y1="558" x2="651.5" y2="636" stroke="#000" stroke-width="1" stroke-dasharray="2,2"/>
<line x1="673.5" y1="558" x2="673.5" y2="636" stroke="#000" stroke-width="1" stroke-dasharray="2,2"/>
<line x1="694.5" y1="558" x2="694.5" y2="636" stroke="#000" stroke-width="1" stroke-dasharray="2,2"/>
<line x1="715.5" y1="558" x2="715.5" y2="636" stroke="#000" stroke-width="1" stroke-dasharray="2,2"/>
<line x1="736.5" y1="558" x2="736.5" y2="636" stroke="#000" stroke-width="1" stroke-dasharray="2,2"/>
<line x1="342" y1="559.5" x2="757" y2="559.5" stroke="#000" stroke-width="1" stroke-dasharray="2,2"/>
<line x1="342" y1="577.5" x2="757" y2="577.5" stroke="#000" stroke-width="1" stroke-dasharray="2,2"/>
<line x1="342" y1="597.5" x2="757" y2="597.5" stroke="#000" stroke-width="1" stroke-dasharray="2,2"/>
<line x1="342" y1="616.5" x2="757" y2="616.5" stroke="#000" stroke-width="1" stroke-dasharray="2,2"/>
<line x1="342" y1="635.5" x2="757" y2="635.5" stroke="#000" stroke-width="1" stroke-dasharray="2,2"/>
<defs>
<linearGradient id="stkB" x1="0" y1="0" x2="0" y2="1"><stop offset="0" stop-color="#000"/><stop offset="0.45" stop-color="#202020"/><stop offset="0.75" stop-color="#909090"/><stop offset="1" stop-color="#fff"/></linearGradient>
<linearGradient id="stkG" x1="0" y1="0" x2="0" y2="1"><stop offset="0" stop-color="#505050"/><stop offset="0.45" stop-color="#606060"/><stop offset="0.75" stop-color="#b0b0b0"/><stop offset="1" stop-color="#fff"/></linearGradient>
</defs>
<clipPath id="cpCb"><rect x="342" y="558" width="415" height="78"/></clipPath>
<g clip-path="url(#cpCb)">
<circle cx="342.5" cy="571.8" r="2.8" fill="#a52a2a"/>
<circle cx="349.5" cy="571.8" r="2.8" fill="#a52a2a"/>
<circle cx="356.5" cy="572.0" r="2.8" fill="#a52a2a"/>
<circle cx="363.5" cy="571.5" r="2.8" fill="#a52a2a"/>
<circle cx="370.5" cy="572.5" r="2.8" fill="#a52a2a"/>
<circle cx="384.5" cy="573.2" r="2.8" fill="#a52a2a"/>
<circle cx="391.5" cy="573.4" r="2.8" fill="#a52a2a"/>
<circle cx="398.5" cy="574.1" r="2.8" fill="#a52a2a"/>
<circle cx="405.5" cy="574.1" r="2.8" fill="#a52a2a"/>
<circle cx="412.5" cy="573.5" r="2.8" fill="#a52a2a"/>
<circle cx="426.5" cy="573.7" r="2.8" fill="#a52a2a"/>
<circle cx="434.5" cy="573.7" r="2.8" fill="#a52a2a"/>
<circle cx="441.5" cy="573.7" r="2.8" fill="#a52a2a"/>
<circle cx="448.5" cy="573.7" r="2.8" fill="#a52a2a"/>
<circle cx="455.5" cy="573.4" r="2.8" fill="#a52a2a"/>
<circle cx="363.5" cy="575.5" r="2.8" fill="#c8c8c8"/>
<circle cx="370.5" cy="575.8" r="2.8" fill="#c8c8c8"/>
<circle cx="377.5" cy="574.8" r="2.8" fill="#c8c8c8"/>
<circle cx="419.5" cy="574.0" r="2.8" fill="#c8c8c8"/>
<circle cx="384.5" cy="579.0" r="2.8" fill="#ffffff"/>
<circle cx="391.5" cy="578.1" r="2.8" fill="#ffffff"/>
<circle cx="405.5" cy="576.8" r="2.8" fill="#ffffff"/>
<circle cx="412.5" cy="576.8" r="2.8" fill="#ffffff"/>
<circle cx="419.5" cy="576.8" r="2.8" fill="#ffffff"/>
<circle cx="363.5" cy="621.5" r="2.8" fill="#ffffff"/>
<circle cx="370.5" cy="618.4" r="2.8" fill="#ffffff"/>
<circle cx="377.5" cy="614.0" r="2.8" fill="#ffffff"/>
<circle cx="398.5" cy="613.7" r="2.8" fill="#ffffff"/>
<circle cx="356.5" cy="626.0" r="2.8" fill="#ffffff"/>
<circle cx="434.5" cy="628.2" r="2.8" fill="#ffffff"/>
<rect x="339.7" y="623.0" width="5.6" height="8.7" rx="2.8" fill="url(#stkB)"/>
<rect x="346.7" y="620.9" width="5.6" height="8.5" rx="2.8" fill="url(#stkG)"/>
<rect x="353.7" y="616.2" width="5.6" height="8.0" rx="2.8" fill="url(#stkG)"/>
<rect x="438.7" y="622.7" width="5.6" height="8.3" rx="2.8" fill="url(#stkB)"/>
<rect x="445.7" y="623.2" width="5.6" height="8.3" rx="2.8" fill="url(#stkB)"/>
<rect x="431.7" y="624.2" width="5.6" height="8.0" rx="2.8" fill="url(#stkG)"/>
<circle cx="455.5" cy="626.4" r="2.8" fill="#a52a2a"/>
<circle cx="462.5" cy="623.0" r="2.8" fill="#a52a2a"/>
<circle cx="469.5" cy="622.4" r="2.8" fill="#a52a2a"/>
<circle cx="476.5" cy="622.0" r="2.8" fill="#a52a2a"/>
<circle cx="483.5" cy="621.7" r="2.8" fill="#a52a2a"/>
<circle cx="490.5" cy="621.7" r="2.8" fill="#a52a2a"/>
<circle cx="497.5" cy="621.7" r="2.8" fill="#a52a2a"/>
<circle cx="504.5" cy="622.0" r="2.8" fill="#a52a2a"/>
<circle cx="511.5" cy="622.0" r="2.8" fill="#a52a2a"/>
<circle cx="518.5" cy="621.7" r="2.8" fill="#a52a2a"/>
<circle cx="525.5" cy="621.0" r="2.8" fill="#a52a2a"/>
<rect x="452.7" y="623.6" width="5.6" height="7.8" rx="2.8" fill="url(#stkB)"/>
<rect x="459.7" y="622.2" width="5.6" height="8.0" rx="2.8" fill="url(#stkB)"/>
<circle cx="469.5" cy="629.8" r="2.8" fill="#000"/>
<circle cx="476.5" cy="629.8" r="2.8" fill="#000"/>
<circle cx="483.5" cy="629.8" r="2.8" fill="#000"/>
<circle cx="490.5" cy="629.8" r="2.8" fill="#000"/>
<circle cx="497.5" cy="629.8" r="2.8" fill="#000"/>
<circle cx="504.5" cy="629.8" r="2.8" fill="#000"/>
<circle cx="511.5" cy="629.8" r="2.8" fill="#000"/>
<rect x="515.7" y="625.6" width="5.6" height="7.2" rx="2.8" fill="url(#stkB)"/>
<rect x="522.7" y="622.2" width="5.6" height="8.6" rx="2.8" fill="url(#stkB)"/>
<circle cx="532.5" cy="621.0" r="2.8" fill="#e8c8c8"/>
<rect x="529.7" y="621.2" width="5.6" height="8.0" rx="2.8" fill="url(#stkG)"/>
<circle cx="532.5" cy="628.0" r="2.8" fill="#fff"/>
<circle cx="602.5" cy="586.6" r="2.8" fill="#a52a2a"/>
<circle cx="610.5" cy="582.6" r="2.8" fill="#a52a2a"/>
<circle cx="617.5" cy="582.2" r="2.8" fill="#a52a2a"/>
<circle cx="624.5" cy="584.8" r="2.8" fill="#a52a2a"/>
<circle cx="631.5" cy="583.8" r="2.8" fill="#a52a2a"/>
<circle cx="610.5" cy="591.1" r="2.8" fill="#c8c8c8"/>
<circle cx="617.5" cy="591.1" r="2.8" fill="#c8c8c8"/>
<circle cx="588.5" cy="592.2" r="2.8" fill="#ffffff"/>
<circle cx="595.5" cy="592.2" r="2.8" fill="#ffffff"/>
<circle cx="602.5" cy="592.2" r="2.8" fill="#ffffff"/>
<circle cx="624.5" cy="591.1" r="2.8" fill="#ffffff"/>
<circle cx="631.5" cy="588.2" r="2.8" fill="#ffffff"/>
<circle cx="610.5" cy="629.8" r="2.8" fill="#ffffff"/>
<circle cx="617.5" cy="629.8" r="2.8" fill="#ffffff"/>
<circle cx="652.5" cy="629.8" r="2.8" fill="#ffffff"/>
<circle cx="659.5" cy="629.8" r="2.8" fill="#ffffff"/>
<circle cx="666.5" cy="629.8" r="2.8" fill="#ffffff"/>
<circle cx="666.5" cy="629.8" r="2.8" fill="#000"/>
<circle cx="666.5" cy="577.2" r="2.8" fill="#a52a2a"/>
<circle cx="673.5" cy="572.8" r="2.8" fill="#a52a2a"/>
<circle cx="680.5" cy="572.8" r="2.8" fill="#a52a2a"/>
<circle cx="687.5" cy="571.4" r="2.8" fill="#a52a2a"/>
<circle cx="694.5" cy="571.7" r="2.8" fill="#a52a2a"/>
<circle cx="701.5" cy="574.8" r="2.8" fill="#a52a2a"/>
<circle cx="708.5" cy="574.8" r="2.8" fill="#a52a2a"/>
<circle cx="715.5" cy="578.0" r="2.8" fill="#a52a2a"/>
<circle cx="722.5" cy="577.5" r="2.8" fill="#a52a2a"/>
<circle cx="729.5" cy="592.0" r="2.8" fill="#a52a2a"/>
<circle cx="736.5" cy="592.0" r="2.8" fill="#a52a2a"/>
<circle cx="743.5" cy="592.2" r="2.8" fill="#a52a2a"/>
<circle cx="750.5" cy="594.2" r="2.8" fill="#a52a2a"/>
<circle cx="757.5" cy="594.5" r="2.8" fill="#a52a2a"/>
<circle cx="673.5" cy="591.5" r="2.8" fill="#ffffff"/>
<circle cx="687.5" cy="605.0" r="2.8" fill="#ffffff"/>
<circle cx="694.5" cy="608.0" r="2.8" fill="#ffffff"/>
<circle cx="701.5" cy="609.7" r="2.8" fill="#ffffff"/>
<circle cx="708.5" cy="607.7" r="2.8" fill="#ffffff"/>
<circle cx="715.5" cy="612.3" r="2.8" fill="#ffffff"/>
<circle cx="722.5" cy="609.7" r="2.8" fill="#ffffff"/>
<circle cx="729.5" cy="615.0" r="2.8" fill="#ffffff"/>
<circle cx="736.5" cy="610.0" r="2.8" fill="#ffffff"/>
<circle cx="743.5" cy="625.5" r="2.8" fill="#ffffff"/>
<circle cx="673.5" cy="629.8" r="2.8" fill="#ffffff"/>
<rect x="691.7" y="596.8" width="5.6" height="8.2" rx="2.8" fill="url(#stkG)"/>
<rect x="698.7" y="596.8" width="5.6" height="8.2" rx="2.8" fill="url(#stkG)"/>
<rect x="705.7" y="594.8" width="5.6" height="8.8" rx="2.8" fill="url(#stkB)"/>
<rect x="712.7" y="594.8" width="5.6" height="7.6" rx="2.8" fill="url(#stkB)"/>
<circle cx="722.5" cy="595.6" r="2.8" fill="#a0a0a0"/>
<rect x="726.7" y="600.2" width="5.6" height="8.0" rx="2.8" fill="url(#stkB)"/>
<rect x="733.7" y="596.4" width="5.6" height="9.7" rx="2.8" fill="url(#stkB)"/>
<rect x="733.7" y="602.2" width="5.6" height="8.0" rx="2.8" fill="url(#stkG)"/>
<rect x="740.7" y="601.5" width="5.6" height="9.0" rx="2.8" fill="url(#stkG)"/>
<circle cx="743.5" cy="619.0" r="2.8" fill="#c8c8c8"/>
<rect x="747.7" y="612.2" width="5.6" height="11.0" rx="2.8" fill="url(#stkB)"/>
<rect x="754.7" y="612.2" width="5.6" height="11.0" rx="2.8" fill="url(#stkB)"/>
<path d="M342.00,572.80 L356.00,571.50 L377.00,570.50 L398.00,569.40 L418.00,572.50 L428.00,576.00 L433.00,579.80 L447.00,579.00 L455.70,578.50 L461.80,592.20 L468.50,633.10 L475.80,629.10 L482.50,633.80 L503.30,633.10 L511.40,585.50 L518.10,576.10 L532.80,573.40 L539.60,570.80 L549.00,569.40 L566.80,569.40 L581.50,574.80 L603.00,577.50 L609.70,582.20 L631.00,582.20 L637.80,593.60 L644.60,600.30 L652.00,596.20 L657.40,633.80 L665.40,633.80 L672.80,592.20 L680.20,577.50 L692.20,572.80 L721.80,574.10 L729.10,581.50 L743.20,581.50 L749.90,597.60 L757.30,589.50" stroke="#ff9900" stroke-width="2.2" fill="none" />
</g>
<rect x="342.5" y="558.5" width="415" height="78" fill="none" stroke="#000" stroke-width="1"/>
<text x="337.5" y="563.5" font-size="11.5" fill="#000" text-anchor="end" font-weight="normal" textLength="20.6" lengthAdjust="spacingAndGlyphs" >15.0</text>
<text x="337.5" y="581.5" font-size="11.5" fill="#000" text-anchor="end" font-weight="normal" textLength="14.700000000000003" lengthAdjust="spacingAndGlyphs" >7.0</text>
<text x="337.5" y="601.5" font-size="11.5" fill="#000" text-anchor="end" font-weight="normal" textLength="14.700000000000003" lengthAdjust="spacingAndGlyphs" >2.0</text>
<text x="337.5" y="620.5" font-size="11.5" fill="#000" text-anchor="end" font-weight="normal" textLength="14.700000000000003" lengthAdjust="spacingAndGlyphs" >0.5</text>
<text x="337.5" y="639.5" font-size="11.5" fill="#000" text-anchor="end" font-weight="normal" textLength="14.700000000000003" lengthAdjust="spacingAndGlyphs" >0.0</text>
<text x="761.5" y="563.5" font-size="11.5" fill="#ff8c00" text-anchor="start" font-weight="normal" textLength="17.700000000000003" lengthAdjust="spacingAndGlyphs" >100</text>
<text x="761.5" y="581.5" font-size="11.5" fill="#ff8c00" text-anchor="start" font-weight="normal" textLength="11.8" lengthAdjust="spacingAndGlyphs" >20</text>
<text x="761.5" y="601.5" font-size="11.5" fill="#ff8c00" text-anchor="start" font-weight="normal" textLength="5.9" lengthAdjust="spacingAndGlyphs" >5</text>
<text x="761.5" y="620.5" font-size="11.5" fill="#ff8c00" text-anchor="start" font-weight="normal" textLength="5.9" lengthAdjust="spacingAndGlyphs" >1</text>
<text x="761.5" y="639.5" font-size="11.5" fill="#ff8c00" text-anchor="start" font-weight="normal" textLength="5.9" lengthAdjust="spacingAndGlyphs" >0</text>
<rect x="342" y="645" width="415" height="55" fill="#88d4fb"/>
<rect x="413.4" y="645" width="77.5" height="55" fill="#76bde9"/>
<rect x="582.2" y="645" width="77.5" height="55" fill="#76bde9"/>
<rect x="751.0" y="645" width="6.0" height="55" fill="#76bde9"/>
<path d="M443,660 L449,652.6 L452.4,652 L461.7,650.2 L466.6,647 L510.5,646.5 L516.6,660Z" fill="#555555"/>
<path d="M464,660 L466.6,650 L474,646.5 L506,646.5 L510.5,660Z" fill="#383838"/>
<path d="M748,660 L757,650.4 L757,660Z" fill="#555555"/>
<path d="M342,653 L346,660 L342,660Z" fill="#555555"/>
<rect x="468.4" y="659" width="3" height="1" fill="#ffb000"/>
<rect x="482" y="648" width="3" height="12" fill="#ffb000"/>
<rect x="489" y="646" width="3" height="14" fill="#ffb000"/>
<rect x="496" y="646" width="3" height="14" fill="#ffb000"/>
<rect x="503.2" y="655" width="3" height="5" fill="#ffb000"/>
<rect x="657.3" y="654" width="3" height="6" fill="#ffb000"/>
<rect x="665.2" y="649" width="3" height="11" fill="#ffb000"/>
<path d="M483.5,650 L483.5,660 M504.7,657 L504.7,660" stroke="#383838" stroke-width="0.8"/>
<line x1="356.5" y1="645" x2="356.5" y2="700" stroke="#000" stroke-width="1" stroke-dasharray="2,2"/>
<line x1="377.5" y1="645" x2="377.5" y2="700" stroke="#000" stroke-width="1" stroke-dasharray="2,2"/>
<line x1="398.5" y1="645" x2="398.5" y2="700" stroke="#000" stroke-width="1" stroke-dasharray="2,2"/>
<line x1="419.5" y1="645" x2="419.5" y2="700" stroke="#000" stroke-width="1" stroke-dasharray="2,2"/>
<line x1="440.5" y1="645" x2="440.5" y2="700" stroke="#000" stroke-width="1" stroke-dasharray="2,2"/>
<line x1="462.5" y1="645" x2="462.5" y2="700" stroke="#000" stroke-width="1" stroke-dasharray="2,2"/>
<line x1="483.5" y1="645" x2="483.5" y2="700" stroke="#000" stroke-width="1" stroke-dasharray="2,2"/>
<line x1="504.5" y1="645" x2="504.5" y2="700" stroke="#000" stroke-width="1" stroke-dasharray="2,2"/>
<line x1="525.5" y1="645" x2="525.5" y2="700" stroke="#000" stroke-width="1" stroke-dasharray="2,2"/>
<line x1="546.5" y1="645" x2="546.5" y2="700" stroke="#000" stroke-width="1" stroke-dasharray="2,2"/>
<line x1="567.5" y1="645" x2="567.5" y2="700" stroke="#000" stroke-width="1" stroke-dasharray="2,2"/>
<line x1="588.5" y1="645" x2="588.5" y2="700" stroke="#000" stroke-width="1" stroke-dasharray="2,2"/>
<line x1="609.5" y1="645" x2="609.5" y2="700" stroke="#000" stroke-width="1" stroke-dasharray="2,2"/>
<line x1="630.5" y1="645" x2="630.5" y2="700" stroke="#000" stroke-width="1" stroke-dasharray="2,2"/>
<line x1="651.5" y1="645" x2="651.5" y2="700" stroke="#000" stroke-width="1" stroke-dasharray="2,2"/>
<line x1="673.5" y1="645" x2="673.5" y2="700" stroke="#000" stroke-width="1" stroke-dasharray="2,2"/>
<line x1="694.5" y1="645" x2="694.5" y2="700" stroke="#000" stroke-width="1" stroke-dasharray="2,2"/>
<line x1="715.5" y1="645" x2="715.5" y2="700" stroke="#000" stroke-width="1" stroke-dasharray="2,2"/>
<line x1="736.5" y1="645" x2="736.5" y2="700" stroke="#000" stroke-width="1" stroke-dasharray="2,2"/>
<line x1="342" y1="645.5" x2="757" y2="645.5" stroke="#000" stroke-width="1"/>
<line x1="342.5" y1="645" x2="342.5" y2="660" stroke="#000" stroke-width="1"/>
<line x1="757.5" y1="645" x2="757.5" y2="660" stroke="#000" stroke-width="1"/>
<text x="337.5" y="650" font-size="11.5" fill="#000" text-anchor="end" font-weight="normal" textLength="5.9" lengthAdjust="spacingAndGlyphs" >8</text>
<text x="761.5" y="650" font-size="11.5" fill="#ff8c00" text-anchor="start" font-weight="normal" textLength="5.9" lengthAdjust="spacingAndGlyphs" >1</text>
<text x="0" y="0" font-size="12.5" fill="#000096" text-anchor="middle" textLength="67" lengthAdjust="spacingAndGlyphs" transform="translate(293,215.5) rotate(-90)">temperatura</text>
<text x="0" y="0" font-size="12.5" fill="#000096" text-anchor="middle" textLength="22" lengthAdjust="spacingAndGlyphs" transform="translate(307,216) rotate(-90)">(°C)</text>
<text x="0" y="0" font-size="12.5" fill="#000096" text-anchor="middle" textLength="28" lengthAdjust="spacingAndGlyphs" transform="translate(293,304) rotate(-90)">opad</text>
<text x="0" y="0" font-size="12.5" fill="#000096" text-anchor="middle" textLength="85" lengthAdjust="spacingAndGlyphs" transform="translate(307,305) rotate(-90)">(mm/h, kg/m²/h)</text>
<text x="0" y="0" font-size="12.5" fill="#000096" text-anchor="middle" textLength="52" lengthAdjust="spacingAndGlyphs" transform="translate(293,392.5) rotate(-90)">ciśnienie</text>
<text x="0" y="0" font-size="12.5" fill="#000096" text-anchor="middle" textLength="30" lengthAdjust="spacingAndGlyphs" transform="translate(307,392.5) rotate(-90)">(hPa)</text>
<text x="0" y="0" font-size="12.5" fill="#000096" text-anchor="middle" textLength="30" lengthAdjust="spacingAndGlyphs" transform="translate(293,481) rotate(-90)">wiatr</text>
<text x="0" y="0" font-size="12.5" fill="#000096" text-anchor="middle" textLength="29" lengthAdjust="spacingAndGlyphs" transform="translate(307,482) rotate(-90)">(m/s)</text>
<text x="0" y="0" font-size="12.5" fill="#000096" text-anchor="end" textLength="116" lengthAdjust="spacingAndGlyphs" transform="translate(293.5,542.5) rotate(-90)">e  pion. rozciągł. chm.</text>
<text x="0" y="0" font-size="12.5" fill="#000096" text-anchor="middle" textLength="23" lengthAdjust="spacingAndGlyphs" transform="translate(307,594.5) rotate(-90)">(km)</text>
<text x="0" y="0" font-size="12.5" fill="#000096" text-anchor="middle" textLength="22" lengthAdjust="spacingAndGlyphs" transform="translate(802,216) rotate(-90)">(°C)</text>
<text x="0" y="0" font-size="12.5" fill="#000096" text-anchor="middle" textLength="67" lengthAdjust="spacingAndGlyphs" transform="translate(816.5,215.5) rotate(-90)">temperatura</text>
<text x="0" y="0" font-size="12.5" fill="#000096" text-anchor="middle" textLength="20" lengthAdjust="spacingAndGlyphs" transform="translate(802,305) rotate(-90)">(%)</text>
<text x="0" y="0" font-size="12.5" fill="#000096" text-anchor="middle" textLength="88" lengthAdjust="spacingAndGlyphs" transform="translate(816.5,304) rotate(-90)">wilgotność wzgl.</text>
<text x="0" y="0" font-size="12.5" fill="#000096" text-anchor="middle" textLength="46" lengthAdjust="spacingAndGlyphs" transform="translate(802,393) rotate(-90)">(mm Hg)</text>
<text x="0" y="0" font-size="12.5" fill="#000096" text-anchor="middle" textLength="52" lengthAdjust="spacingAndGlyphs" transform="translate(816.5,394) rotate(-90)">ciśnienie</text>
<text x="0" y="0" font-size="12.5" fill="#000096" text-anchor="middle" textLength="35" lengthAdjust="spacingAndGlyphs" transform="translate(802,481) rotate(-90)">(km/h)</text>
<text x="0" y="0" font-size="12.5" fill="#000096" text-anchor="middle" textLength="30" lengthAdjust="spacingAndGlyphs" transform="translate(816.5,480) rotate(-90)">wiatr</text>
<text x="0" y="0" font-size="12.5" fill="#000096" text-anchor="middle" textLength="24" lengthAdjust="spacingAndGlyphs" transform="translate(802,593) rotate(-90)">(km)</text>
<text x="0" y="0" font-size="12.5" fill="#000096" text-anchor="middle" textLength="63" lengthAdjust="spacingAndGlyphs" transform="translate(816.5,595.5) rotate(-90)">widzialność</text>
<text x="284" y="539.5" font-size="12" fill="#000096" text-anchor="start" font-weight="normal" textLength="11" lengthAdjust="spacingAndGlyphs" >W</text>
<text x="295" y="531" font-size="12" fill="#000096" text-anchor="start" font-weight="normal" textLength="7" lengthAdjust="spacingAndGlyphs" >N</text>
<text x="302" y="539.5" font-size="12" fill="#000096" text-anchor="start" font-weight="normal" textLength="6.5" lengthAdjust="spacingAndGlyphs" >E</text>
<text x="295" y="548" font-size="12" fill="#000096" text-anchor="start" font-weight="normal" textLength="6.5" lengthAdjust="spacingAndGlyphs" >S</text>
<text x="792.4" y="539.5" font-size="12" fill="#000096" text-anchor="start" font-weight="normal" textLength="11" lengthAdjust="spacingAndGlyphs" >W</text>
<text x="803.4" y="531" font-size="12" fill="#000096" text-anchor="start" font-weight="normal" textLength="7" lengthAdjust="spacingAndGlyphs" >N</text>
<text x="810.4" y="539.5" font-size="12" fill="#000096" text-anchor="start" font-weight="normal" textLength="6.5" lengthAdjust="spacingAndGlyphs" >E</text>
<text x="803.4" y="548" font-size="12" fill="#000096" text-anchor="start" font-weight="normal" textLength="6.5" lengthAdjust="spacingAndGlyphs" >S</text>
<rect x="170" y="30" width="62" height="598" fill="#eef4fc"/>
<text x="163.5" y="55" font-size="12" fill="#000" text-anchor="middle" font-weight="normal" >20</text>
<text x="204.5" y="55" font-size="12" fill="#000" text-anchor="middle" font-weight="normal" >02</text>
<text x="245" y="55" font-size="12" fill="#000" text-anchor="middle" font-weight="normal" >08</text>
<text x="163.5" y="615" font-size="12" fill="#000" text-anchor="middle" font-weight="normal" >18</text>
<text x="204" y="615" font-size="12" fill="#000" text-anchor="middle" font-weight="normal" >00</text>
<text x="244.5" y="615" font-size="12" fill="#000" text-anchor="middle" font-weight="normal" >06</text>
<rect x="135" y="57" width="110" height="77" fill="#ffffff"/>
<rect x="170" y="57" width="62" height="77" fill="#eef4fc"/>
<clipPath id="cpMT"><rect x="135" y="57" width="110" height="77"/></clipPath><g clip-path="url(#cpMT)">
<rect x="135" y="111" width="110" height="23" fill="#87d3fb"/>
<path d="M170,111 L232,111 L232,134 L170,134Z" fill="#78bdea"/>
<path d="M135.00,87.50 L160.00,98.00 L187.50,107.50 L225.00,108.50 L245.00,105.00 L245.00,120.00 L233.00,127.00 L225.00,124.00 L187.50,121.00 L160.00,113.00 L135.00,104.00Z" fill="#ffe4d8" />
<path d="M135.00,101.00 L163.70,109.00 L184.40,114.00 L205.70,117.00 L225.00,119.00 L232.40,121.00 L241.20,115.00 L245.00,114.00 L245.00,123.00 L232.00,131.00 L200.00,125.00 L170.00,113.00 L135.00,111.00Z" fill="#b8e2fb" />
<line x1="143.5" y1="57" x2="143.5" y2="134" stroke="#000" stroke-dasharray="2,2"/>
<line x1="164.5" y1="57" x2="164.5" y2="134" stroke="#000" stroke-dasharray="2,2"/>
<line x1="184.5" y1="57" x2="184.5" y2="134" stroke="#000" stroke-dasharray="2,2"/>
<line x1="204.5" y1="57" x2="204.5" y2="134" stroke="#000" stroke-dasharray="2,2"/>
<line x1="225.5" y1="57" x2="225.5" y2="134" stroke="#000" stroke-dasharray="2,2"/>
<line x1="135" y1="59.5" x2="245" y2="59.5" stroke="#000" stroke-dasharray="2,2"/>
<line x1="135" y1="77.5" x2="245" y2="77.5" stroke="#000" stroke-dasharray="2,2"/>
<line x1="135" y1="94.5" x2="245" y2="94.5" stroke="#000" stroke-dasharray="2,2"/>
<line x1="135" y1="111.5" x2="245" y2="111.5" stroke="#000" stroke-dasharray="2,2"/>
<line x1="135" y1="129.5" x2="245" y2="129.5" stroke="#000" stroke-dasharray="2,2"/>
<line x1="142.5" y1="68.9" x2="142.5" y2="82.8" stroke="#a00000"/>
<line x1="149.5" y1="77.7" x2="149.5" y2="89.4" stroke="#a00000"/>
<line x1="156.5" y1="86.9" x2="156.5" y2="98.9" stroke="#a00000"/>
<line x1="163.5" y1="96" x2="163.5" y2="106.2" stroke="#a00000"/>
<line x1="170.5" y1="101.1" x2="170.5" y2="110.6" stroke="#a00000"/>
<line x1="177.5" y1="103.3" x2="177.5" y2="118.7" stroke="#a00000"/>
<line x1="184.5" y1="107" x2="184.5" y2="119.4" stroke="#a00000"/>
<line x1="191.5" y1="107.7" x2="191.5" y2="122.3" stroke="#a00000"/>
<line x1="198.5" y1="107.7" x2="198.5" y2="125.2" stroke="#a00000"/>
<line x1="205.5" y1="109.9" x2="205.5" y2="126.7" stroke="#a00000"/>
<line x1="212.5" y1="109.9" x2="212.5" y2="128.2" stroke="#a00000"/>
<line x1="219.5" y1="109.9" x2="219.5" y2="129.6" stroke="#a00000"/>
<line x1="226.5" y1="112" x2="226.5" y2="131.1" stroke="#a00000"/>
<line x1="233.5" y1="111.3" x2="233.5" y2="131.8" stroke="#a00000"/>
<line x1="240.5" y1="106.2" x2="240.5" y2="118" stroke="#a00000"/>
<rect x="135.5" y="112.5" width="3" height="3" fill="#6a5acd"/>
<rect x="142.5" y="112.5" width="3" height="3" fill="#6a5acd"/>
<rect x="149.5" y="112.5" width="3" height="3" fill="#6a5acd"/>
<rect x="156.5" y="112.5" width="3" height="3" fill="#6a5acd"/>
<rect x="163.5" y="112.5" width="3" height="3" fill="#6a5acd"/>
<rect x="218.5" y="118.5" width="3" height="3" fill="#6a5acd"/>
<rect x="225.5" y="119.5" width="3" height="3" fill="#6a5acd"/>
<rect x="232.5" y="117.5" width="3" height="3" fill="#6a5acd"/>
<rect x="239.5" y="117.5" width="3" height="3" fill="#6a5acd"/>
<path d="M135.90,101.80 L142.40,103.30 L163.70,110.60 L173.90,113.50 L184.40,115.30 L205.70,118.20 L217.80,118.00 L225.00,120.10 L232.40,122.60 L241.20,116.50 L245.60,115.70" stroke="#0000ff" stroke-width="2.5" fill="none" />
<path d="M135.90,98.90 L142.40,99.60 L163.70,107.70 L173.90,112.00 L184.40,113.20 L205.70,113.80 L225.00,115.00 L233.20,119.40 L241.20,114.30 L245.60,111.30" stroke="#ff0000" stroke-width="2.5" fill="none" />
</g>
<rect x="135.5" y="57.5" width="110" height="77" fill="none" stroke="#000"/>
<text x="128.5" y="63" font-size="11" fill="#000" text-anchor="end" font-weight="normal" textLength="11.2" lengthAdjust="spacingAndGlyphs" >30</text>
<text x="251" y="63" font-size="11" fill="#000" text-anchor="start" font-weight="normal" textLength="11.2" lengthAdjust="spacingAndGlyphs" >30</text>
<text x="128.5" y="81" font-size="11" fill="#000" text-anchor="end" font-weight="normal" textLength="11.2" lengthAdjust="spacingAndGlyphs" >20</text>
<text x="251" y="81" font-size="11" fill="#000" text-anchor="start" font-weight="normal" textLength="11.2" lengthAdjust="spacingAndGlyphs" >20</text>
<text x="128.5" y="98" font-size="11" fill="#000" text-anchor="end" font-weight="normal" textLength="11.2" lengthAdjust="spacingAndGlyphs" >10</text>
<text x="251" y="98" font-size="11" fill="#000" text-anchor="start" font-weight="normal" textLength="11.2" lengthAdjust="spacingAndGlyphs" >10</text>
<text x="128.5" y="115" font-size="11" fill="#000" text-anchor="end" font-weight="normal" textLength="5.6" lengthAdjust="spacingAndGlyphs" >0</text>
<text x="251" y="115" font-size="11" fill="#000" text-anchor="start" font-weight="normal" textLength="5.6" lengthAdjust="spacingAndGlyphs" >0</text>
<text x="128.5" y="133" font-size="11" fill="#000" text-anchor="end" font-weight="normal" textLength="15.299999999999997" lengthAdjust="spacingAndGlyphs" >-10</text>
<text x="251" y="133" font-size="11" fill="#000" text-anchor="start" font-weight="normal" textLength="15.299999999999997" lengthAdjust="spacingAndGlyphs" >-10</text>
<rect x="135" y="143" width="110" height="77" fill="#ffffff"/>
<rect x="170" y="143" width="62" height="77" fill="#eef4fc"/>
<clipPath id="cpMP"><rect x="135" y="143" width="110" height="77"/></clipPath><g clip-path="url(#cpMP)">
<rect x="135" y="187" width="8.75" height="33" fill="#00a000"/>
<rect x="143.75" y="181.25" width="9.5" height="38.75" fill="#00a000"/>
<rect x="153.25" y="179.5" width="3.75" height="40.5" fill="#00a000"/>
<rect x="157" y="201.25" width="7.5" height="18.75" fill="#00a000"/>
<rect x="164.5" y="207.5" width="5.5" height="12.5" fill="#00a000"/>
<rect x="170" y="218" width="7" height="2" fill="#00a000"/>
<rect x="157" y="182" width="7.5" height="19.25" fill="#0a2fc8"/>
<rect x="164.5" y="205" width="5.5" height="2.5" fill="#0a2fc8"/>
<line x1="143.5" y1="143" x2="143.5" y2="220" stroke="#000" stroke-dasharray="2,2"/>
<line x1="164.5" y1="143" x2="164.5" y2="220" stroke="#000" stroke-dasharray="2,2"/>
<line x1="184.5" y1="143" x2="184.5" y2="220" stroke="#000" stroke-dasharray="2,2"/>
<line x1="204.5" y1="143" x2="204.5" y2="220" stroke="#000" stroke-dasharray="2,2"/>
<line x1="225.5" y1="143" x2="225.5" y2="220" stroke="#000" stroke-dasharray="2,2"/>
<line x1="135" y1="151.5" x2="245" y2="151.5" stroke="#000" stroke-dasharray="2,2"/>
<line x1="135" y1="168.5" x2="245" y2="168.5" stroke="#000" stroke-dasharray="2,2"/>
<line x1="135" y1="185.5" x2="245" y2="185.5" stroke="#000" stroke-dasharray="2,2"/>
<line x1="135" y1="202.5" x2="245" y2="202.5" stroke="#000" stroke-dasharray="2,2"/>
<line x1="139.5" y1="165.5" x2="139.5" y2="187" stroke="#00b000" stroke-width="1.2"/>
<line x1="146.5" y1="147.5" x2="146.5" y2="187" stroke="#00b000" stroke-width="1.2"/>
<line x1="153.5" y1="147.5" x2="153.5" y2="187" stroke="#00b000" stroke-width="1.2"/>
<path d="M137.50,172.00 L139.12,171.36 L141.44,170.36 L143.75,168.75 L145.79,166.10 L147.82,162.84 L150.00,160.00 L152.31,157.96 L154.77,156.34 L157.50,155.00 L160.37,153.89 L163.52,153.06 L167.50,152.50 L173.15,152.43 L179.63,152.63 L185.00,152.50 L188.29,151.61 L190.46,150.39 L192.50,149.50 L194.49,149.06 L196.34,148.94 L198.75,149.50 L201.99,151.48 L205.79,154.13 L210.00,155.50 L215.00,154.27 L220.42,151.76 L225.00,150.00 L227.87,149.47 L229.91,149.69 L232.50,151.25 L236.76,155.27 L241.57,160.62 L245.00,164.50" stroke="#e0501a" stroke-width="2.2" fill="none" />
<rect x="145.0" y="146" width="3" height="3" fill="#ff0000"/>
<rect x="152.0" y="146" width="3" height="3" fill="#ff0000"/>
<circle cx="139.5" cy="173.5" r="2.6" fill="#ffe030" stroke="#303030" stroke-width="0.8"/>
<circle cx="146.5" cy="173.5" r="2.6" fill="#ffa020" stroke="#303030" stroke-width="0.8"/>
<circle cx="153.5" cy="173.5" r="2.6" fill="#ff2010" stroke="#303030" stroke-width="0.8"/>
<line x1="136" y1="219.5" x2="170" y2="219.5" stroke="#ff0000" stroke-dasharray="2,3"/>
</g>
<rect x="135.5" y="143.5" width="110" height="77" fill="none" stroke="#000"/>
<text x="128.5" y="155" font-size="11" fill="#000" text-anchor="end" font-weight="normal" textLength="14.299999999999997" lengthAdjust="spacingAndGlyphs" >2.0</text>
<text x="251" y="155" font-size="11" fill="#e0501a" text-anchor="start" font-weight="normal" textLength="11.2" lengthAdjust="spacingAndGlyphs" >96</text>
<text x="128.5" y="172" font-size="11" fill="#000" text-anchor="end" font-weight="normal" textLength="14.299999999999997" lengthAdjust="spacingAndGlyphs" >1.5</text>
<text x="251" y="172" font-size="11" fill="#e0501a" text-anchor="start" font-weight="normal" textLength="11.2" lengthAdjust="spacingAndGlyphs" >84</text>
<text x="128.5" y="189" font-size="11" fill="#000" text-anchor="end" font-weight="normal" textLength="14.299999999999997" lengthAdjust="spacingAndGlyphs" >1.0</text>
<text x="251" y="189" font-size="11" fill="#e0501a" text-anchor="start" font-weight="normal" textLength="11.2" lengthAdjust="spacingAndGlyphs" >73</text>
<text x="128.5" y="206" font-size="11" fill="#000" text-anchor="end" font-weight="normal" textLength="14.299999999999997" lengthAdjust="spacingAndGlyphs" >0.5</text>
<text x="251" y="206" font-size="11" fill="#e0501a" text-anchor="start" font-weight="normal" textLength="11.2" lengthAdjust="spacingAndGlyphs" >61</text>
<text x="128.5" y="223" font-size="11" fill="#000" text-anchor="end" font-weight="normal" textLength="14.299999999999997" lengthAdjust="spacingAndGlyphs" >0.0</text>
<text x="251" y="223" font-size="11" fill="#e0501a" text-anchor="start" font-weight="normal" textLength="11.2" lengthAdjust="spacingAndGlyphs" >50</text>
<rect x="135" y="229" width="110" height="77" fill="#ffffff"/>
<rect x="170" y="229" width="62" height="77" fill="#eef4fc"/>
<path d="M135.75,260.50 L143.75,259.50 L151.25,252.50 L160.00,248.25 L164.50,248.25 L170.75,245.00 L182.50,250.00 L192.50,253.75 L225.00,253.75 L245.00,265.00 L245.00,306.00 L135.00,306.00Z" fill="#ffff00" />
<rect x="165" y="246" width="5" height="60" fill="#ffd800"/>
<line x1="143.5" y1="229" x2="143.5" y2="306" stroke="#000" stroke-dasharray="2,2"/>
<line x1="164.5" y1="229" x2="164.5" y2="306" stroke="#000" stroke-dasharray="2,2"/>
<line x1="184.5" y1="229" x2="184.5" y2="306" stroke="#000" stroke-dasharray="2,2"/>
<line x1="204.5" y1="229" x2="204.5" y2="306" stroke="#000" stroke-dasharray="2,2"/>
<line x1="225.5" y1="229" x2="225.5" y2="306" stroke="#000" stroke-dasharray="2,2"/>
<line x1="135" y1="231.5" x2="245" y2="231.5" stroke="#000" stroke-dasharray="2,2"/>
<line x1="135" y1="254.5" x2="245" y2="254.5" stroke="#000" stroke-dasharray="2,2"/>
<line x1="135" y1="278.5" x2="245" y2="278.5" stroke="#000" stroke-dasharray="2,2"/>
<line x1="135" y1="301.5" x2="245" y2="301.5" stroke="#000" stroke-dasharray="2,2"/>
<path d="M135.75,260.50 L143.75,259.50 L151.25,252.50 L160.00,248.25 L164.50,248.25 L170.75,245.00 L182.50,250.00 L192.50,253.75 L225.00,253.75 L245.00,265.00" stroke="#000" stroke-width="2.2" fill="none" />
<rect x="135.5" y="229.5" width="110" height="77" fill="none" stroke="#000"/>
<text x="128.5" y="235" font-size="11" fill="#000" text-anchor="end" font-weight="normal" textLength="22.4" lengthAdjust="spacingAndGlyphs" >1018</text>
<text x="251" y="235" font-size="11" fill="#000" text-anchor="start" font-weight="normal" textLength="22.4" lengthAdjust="spacingAndGlyphs" >1018</text>
<text x="128.5" y="258" font-size="11" fill="#000" text-anchor="end" font-weight="normal" textLength="22.4" lengthAdjust="spacingAndGlyphs" >1016</text>
<text x="251" y="258" font-size="11" fill="#000" text-anchor="start" font-weight="normal" textLength="22.4" lengthAdjust="spacingAndGlyphs" >1016</text>
<text x="128.5" y="282" font-size="11" fill="#000" text-anchor="end" font-weight="normal" textLength="22.4" lengthAdjust="spacingAndGlyphs" >1014</text>
<text x="251" y="282" font-size="11" fill="#000" text-anchor="start" font-weight="normal" textLength="22.4" lengthAdjust="spacingAndGlyphs" >1014</text>
<text x="128.5" y="305" font-size="11" fill="#000" text-anchor="end" font-weight="normal" textLength="22.4" lengthAdjust="spacingAndGlyphs" >1012</text>
<text x="251" y="305" font-size="11" fill="#000" text-anchor="start" font-weight="normal" textLength="22.4" lengthAdjust="spacingAndGlyphs" >1012</text>
<rect x="135" y="315" width="110" height="77" fill="#ffffff"/>
<rect x="170" y="315" width="62" height="77" fill="#eef4fc"/>
<clipPath id="cpMW"><path d="M135.5,364.9 L144.6,369.3 L152,371.5 L166.6,373.7 L178.3,375.6 L188.5,374.4 L197.3,372.9 L225.1,372.6 L232.4,370.7 L241.2,369.3 L245,369.3 L245,392 L135,392Z"/></clipPath><g clip-path="url(#cpMW)">
<rect x="135" y="360" width="13" height="32" fill="#00c000"/>
<rect x="148" y="360" width="20.69999999999999" height="32" fill="#008000"/>
<rect x="168.7" y="360" width="28.600000000000023" height="32" fill="#004080"/>
<rect x="197.3" y="360" width="13.699999999999989" height="32" fill="#008000"/>
<rect x="211" y="360" width="14" height="32" fill="#004080"/>
<rect x="225" y="360" width="14" height="32" fill="#008000"/>
<rect x="239" y="360" width="6" height="32" fill="#00c000"/>
</g>
<line x1="143.5" y1="315" x2="143.5" y2="392" stroke="#000" stroke-dasharray="2,2"/>
<line x1="164.5" y1="315" x2="164.5" y2="392" stroke="#000" stroke-dasharray="2,2"/>
<line x1="184.5" y1="315" x2="184.5" y2="392" stroke="#000" stroke-dasharray="2,2"/>
<line x1="204.5" y1="315" x2="204.5" y2="392" stroke="#000" stroke-dasharray="2,2"/>
<line x1="225.5" y1="315" x2="225.5" y2="392" stroke="#000" stroke-dasharray="2,2"/>
<line x1="135" y1="316.5" x2="245" y2="316.5" stroke="#000" stroke-dasharray="2,2"/>
<line x1="135" y1="334.5" x2="245" y2="334.5" stroke="#000" stroke-dasharray="2,2"/>
<line x1="135" y1="354.5" x2="245" y2="354.5" stroke="#000" stroke-dasharray="2,2"/>
<line x1="135" y1="373.5" x2="245" y2="373.5" stroke="#000" stroke-dasharray="2,2"/>
<path d="M135.50,364.90 L144.60,369.30 L152.00,371.50 L166.60,373.70 L178.30,375.60 L188.50,374.40 L197.30,372.90 L225.10,372.60 L232.40,370.70 L241.20,369.30 L245.00,369.30" stroke="#000096" stroke-width="2.5" fill="none" />
<line x1="141" y1="340.5" x2="149" y2="340.5" stroke="#ff0000"/>
<line x1="148.3" y1="347.5" x2="155.6" y2="347.5" stroke="#ff0000"/>
<line x1="155.6" y1="348.5" x2="161.5" y2="348.5" stroke="#ff0000"/>
<line x1="162.2" y1="351.5" x2="169.5" y2="351.5" stroke="#ff0000"/>
<line x1="170.2" y1="355.5" x2="176.8" y2="355.5" stroke="#ff0000"/>
<line x1="176" y1="358.5" x2="184.9" y2="358.5" stroke="#ff0000"/>
<line x1="184.2" y1="354.5" x2="190" y2="354.5" stroke="#ff0000"/>
<line x1="190" y1="351.5" x2="197.3" y2="351.5" stroke="#ff0000"/>
<line x1="197.3" y1="350.5" x2="210.5" y2="350.5" stroke="#ff0000"/>
<line x1="210.5" y1="351.5" x2="225.1" y2="351.5" stroke="#ff0000"/>
<line x1="225.9" y1="348.5" x2="232.4" y2="348.5" stroke="#ff0000"/>
<line x1="232.4" y1="343.5" x2="239" y2="343.5" stroke="#ff0000"/>
<line x1="239" y1="342.5" x2="245" y2="342.5" stroke="#ff0000"/>
<circle cx="138.5" cy="316.8" r="1.6" fill="#ff0000"/>
<rect x="135.5" y="315.5" width="110" height="77" fill="none" stroke="#000"/>
<text x="128.5" y="320" font-size="11" fill="#000" text-anchor="end" font-weight="normal" textLength="11.2" lengthAdjust="spacingAndGlyphs" >20</text>
<text x="251" y="320" font-size="11" fill="#000" text-anchor="start" font-weight="normal" textLength="11.2" lengthAdjust="spacingAndGlyphs" >72</text>
<text x="128.5" y="338" font-size="11" fill="#000" text-anchor="end" font-weight="normal" textLength="11.2" lengthAdjust="spacingAndGlyphs" >15</text>
<text x="251" y="338" font-size="11" fill="#000" text-anchor="start" font-weight="normal" textLength="11.2" lengthAdjust="spacingAndGlyphs" >54</text>
<text x="128.5" y="358" font-size="11" fill="#000" text-anchor="end" font-weight="normal" textLength="11.2" lengthAdjust="spacingAndGlyphs" >10</text>
<text x="251" y="358" font-size="11" fill="#000" text-anchor="start" font-weight="normal" textLength="11.2" lengthAdjust="spacingAndGlyphs" >36</text>
<text x="128.5" y="377" font-size="11" fill="#000" text-anchor="end" font-weight="normal" textLength="5.6" lengthAdjust="spacingAndGlyphs" >5</text>
<text x="251" y="377" font-size="11" fill="#000" text-anchor="start" font-weight="normal" textLength="11.2" lengthAdjust="spacingAndGlyphs" >18</text>
<text x="128.5" y="396" font-size="11" fill="#000" text-anchor="end" font-weight="normal" textLength="5.6" lengthAdjust="spacingAndGlyphs" >0</text>
<text x="251" y="396" font-size="11" fill="#000" text-anchor="start" font-weight="normal" textLength="5.6" lengthAdjust="spacingAndGlyphs" >0</text>
<rect x="135" y="398" width="110" height="32" fill="#ffffff"/>
<rect x="170" y="398" width="62" height="32" fill="#eef4fc"/>
<line x1="143.5" y1="398" x2="143.5" y2="430" stroke="#000" stroke-dasharray="2,2"/>
<line x1="164.5" y1="398" x2="164.5" y2="430" stroke="#000" stroke-dasharray="2,2"/>
<line x1="184.5" y1="398" x2="184.5" y2="430" stroke="#000" stroke-dasharray="2,2"/>
<line x1="204.5" y1="398" x2="204.5" y2="430" stroke="#000" stroke-dasharray="2,2"/>
<line x1="225.5" y1="398" x2="225.5" y2="430" stroke="#000" stroke-dasharray="2,2"/>
<clipPath id="cpMD"><rect x="135" y="398" width="111" height="32"/></clipPath><g clip-path="url(#cpMD)">
<line x1="132.3" y1="406.4" x2="137.6" y2="417.7" stroke="#0000a0" stroke-width="1.4"/>
<path d="M140.3,423.6 L134.7,419.1 L140.5,416.4Z" fill="#0000a0"/>
<line x1="139.1" y1="406.4" x2="144.4" y2="417.7" stroke="#0000a0" stroke-width="1.4"/>
<path d="M147.1,423.6 L141.5,419.1 L147.3,416.4Z" fill="#0000a0"/>
<line x1="145.9" y1="406.4" x2="151.2" y2="417.7" stroke="#0000a0" stroke-width="1.4"/>
<path d="M154.0,423.6 L148.3,419.1 L154.1,416.4Z" fill="#0000a0"/>
<line x1="152.8" y1="406.4" x2="158.1" y2="417.7" stroke="#0000a0" stroke-width="1.4"/>
<path d="M160.8,423.6 L155.2,419.1 L161.0,416.4Z" fill="#0000a0"/>
<line x1="159.6" y1="406.4" x2="164.9" y2="417.7" stroke="#0000a0" stroke-width="1.4"/>
<path d="M167.6,423.6 L162.0,419.1 L167.8,416.4Z" fill="#0000a0"/>
<line x1="166.4" y1="406.4" x2="171.7" y2="417.7" stroke="#0000a0" stroke-width="1.4"/>
<path d="M174.5,423.6 L168.8,419.1 L174.6,416.4Z" fill="#0000a0"/>
<line x1="173.3" y1="406.4" x2="178.5" y2="417.7" stroke="#0000a0" stroke-width="1.4"/>
<path d="M181.3,423.6 L175.6,419.1 L181.4,416.4Z" fill="#0000a0"/>
<line x1="180.1" y1="406.4" x2="185.4" y2="417.7" stroke="#0000a0" stroke-width="1.4"/>
<path d="M188.1,423.6 L182.5,419.1 L188.3,416.4Z" fill="#0000a0"/>
<line x1="186.9" y1="406.4" x2="192.2" y2="417.7" stroke="#0000a0" stroke-width="1.4"/>
<path d="M195.0,423.6 L189.3,419.1 L195.1,416.4Z" fill="#0000a0"/>
<line x1="193.8" y1="406.4" x2="199.0" y2="417.7" stroke="#0000a0" stroke-width="1.4"/>
<path d="M201.8,423.6 L196.1,419.1 L201.9,416.4Z" fill="#0000a0"/>
<line x1="200.6" y1="406.4" x2="205.9" y2="417.7" stroke="#0000a0" stroke-width="1.4"/>
<path d="M208.6,423.6 L203.0,419.1 L208.8,416.4Z" fill="#0000a0"/>
<line x1="207.4" y1="406.4" x2="212.7" y2="417.7" stroke="#0000a0" stroke-width="1.4"/>
<path d="M215.4,423.6 L209.8,419.1 L215.6,416.4Z" fill="#0000a0"/>
<line x1="214.2" y1="406.4" x2="219.5" y2="417.7" stroke="#0000a0" stroke-width="1.4"/>
<path d="M222.3,423.6 L216.6,419.1 L222.4,416.4Z" fill="#0000a0"/>
<line x1="221.1" y1="406.4" x2="226.4" y2="417.7" stroke="#0000a0" stroke-width="1.4"/>
<path d="M229.1,423.6 L223.5,419.1 L229.3,416.4Z" fill="#0000a0"/>
<line x1="227.9" y1="406.4" x2="233.2" y2="417.7" stroke="#0000a0" stroke-width="1.4"/>
<path d="M235.9,423.6 L230.3,419.1 L236.1,416.4Z" fill="#0000a0"/>
<line x1="234.7" y1="406.4" x2="240.0" y2="417.7" stroke="#0000a0" stroke-width="1.4"/>
<path d="M242.8,423.6 L237.1,419.1 L242.9,416.4Z" fill="#0000a0"/>
<line x1="241.6" y1="406.4" x2="246.8" y2="417.7" stroke="#0000a0" stroke-width="1.4"/>
<path d="M249.6,423.6 L243.9,419.1 L249.7,416.4Z" fill="#0000a0"/>
<line x1="135" y1="419.5" x2="140" y2="419.5" stroke="#0000a0" stroke-width="2"/>
</g>
<rect x="135.5" y="398.5" width="110" height="32" fill="none" stroke="#000"/>
<rect x="135" y="436" width="110" height="78" fill="#88d4fb"/>
<rect x="170" y="436" width="62" height="78" fill="#76bde9"/>
<clipPath id="cpMC"><rect x="135" y="436" width="110" height="78"/></clipPath><g clip-path="url(#cpMC)">
<line x1="143.5" y1="436" x2="143.5" y2="514" stroke="#000" stroke-dasharray="2,2"/>
<line x1="164.5" y1="436" x2="164.5" y2="514" stroke="#000" stroke-dasharray="2,2"/>
<line x1="184.5" y1="436" x2="184.5" y2="514" stroke="#000" stroke-dasharray="2,2"/>
<line x1="204.5" y1="436" x2="204.5" y2="514" stroke="#000" stroke-dasharray="2,2"/>
<line x1="225.5" y1="436" x2="225.5" y2="514" stroke="#000" stroke-dasharray="2,2"/>
<line x1="135" y1="456.5" x2="245" y2="456.5" stroke="#000" stroke-dasharray="2,2"/>
<line x1="135" y1="475.5" x2="245" y2="475.5" stroke="#000" stroke-dasharray="2,2"/>
<line x1="135" y1="495.5" x2="245" y2="495.5" stroke="#000" stroke-dasharray="2,2"/>
<circle cx="170.2" cy="449.5" r="2.6" fill="#a52a2a"/>
<circle cx="177.5" cy="449.5" r="2.6" fill="#a52a2a"/>
<circle cx="184.5" cy="449.5" r="2.6" fill="#a52a2a"/>
<circle cx="191.3" cy="449.5" r="2.6" fill="#a52a2a"/>
<circle cx="198.5" cy="451" r="2.6" fill="#a52a2a"/>
<circle cx="204.4" cy="449.5" r="2.6" fill="#a52a2a"/>
<circle cx="211.2" cy="449.5" r="2.6" fill="#a52a2a"/>
<circle cx="218" cy="449.5" r="2.6" fill="#a52a2a"/>
<circle cx="225.5" cy="449.5" r="2.6" fill="#a52a2a"/>
<circle cx="232.3" cy="449.5" r="2.6" fill="#a52a2a"/>
<circle cx="239.5" cy="449.5" r="2.6" fill="#a52a2a"/>
<circle cx="244.8" cy="449.5" r="2.6" fill="#a52a2a"/>
<circle cx="150.3" cy="458" r="2.6" fill="#a52a2a"/>
<circle cx="157.2" cy="458" r="2.6" fill="#a52a2a"/>
<circle cx="164.4" cy="458" r="2.6" fill="#a52a2a"/>
<circle cx="136.7" cy="475.5" r="2.6" fill="#a52a2a"/>
<circle cx="143.3" cy="475.5" r="2.6" fill="#a52a2a"/>
<circle cx="150.3" cy="492" r="2.6" fill="#505050"/>
<circle cx="157.2" cy="492" r="2.6" fill="#505050"/>
<circle cx="164.4" cy="492" r="2.6" fill="#505050"/>
<circle cx="191.3" cy="489" r="2.6" fill="#505050"/>
<circle cx="218" cy="481.5" r="2.6" fill="#505050"/>
<circle cx="225.5" cy="489" r="2.6" fill="#505050"/>
<circle cx="232.3" cy="492" r="2.6" fill="#505050"/>
<circle cx="239.5" cy="493" r="2.6" fill="#505050"/>
<circle cx="143.3" cy="481.5" r="2.6" fill="#505050"/>
<circle cx="143.3" cy="500" r="2.6" fill="#505050"/>
<circle cx="170.2" cy="489" r="2.6" fill="#c0c0c0"/>
<circle cx="177.5" cy="489" r="2.6" fill="#c0c0c0"/>
<circle cx="198.5" cy="484" r="2.6" fill="#c0c0c0"/>
<circle cx="211.2" cy="484" r="2.6" fill="#c0c0c0"/>
<circle cx="218" cy="489" r="2.6" fill="#c0c0c0"/>
<circle cx="204.4" cy="492" r="2.6" fill="#c0c0c0"/>
<circle cx="190" cy="493" r="2.6" fill="#c0c0c0"/>
<circle cx="191.3" cy="456" r="2.6" fill="#000000"/>
<circle cx="198.5" cy="464.5" r="2.6" fill="#000000"/>
<circle cx="204.4" cy="467.8" r="2.6" fill="#000000"/>
<circle cx="211.2" cy="470" r="2.6" fill="#000000"/>
<circle cx="218" cy="481.5" r="2.6" fill="#000000"/>
<circle cx="225.5" cy="485.4" r="2.6" fill="#000000"/>
<circle cx="232.3" cy="489.3" r="2.6" fill="#000000"/>
<circle cx="239.5" cy="481.5" r="2.6" fill="#000000"/>
<circle cx="244.5" cy="478" r="2.6" fill="#000000"/>
<circle cx="184.5" cy="489.3" r="2.6" fill="#000000"/>
<circle cx="150.3" cy="500" r="2.6" fill="#ffffff"/>
<circle cx="164.4" cy="500" r="2.6" fill="#ffffff"/>
<circle cx="191.3" cy="500" r="2.6" fill="#ffffff"/>
<circle cx="218" cy="512" r="2.6" fill="#ffffff"/>
<circle cx="225.5" cy="512" r="2.6" fill="#ffffff"/>
<circle cx="232.3" cy="512" r="2.6" fill="#ffffff"/>
<circle cx="239.5" cy="512" r="2.6" fill="#ffffff"/>
<circle cx="184.5" cy="512" r="2.6" fill="#ffffff"/>
<circle cx="143.3" cy="503" r="2.6" fill="#ffffff"/>
<circle cx="136" cy="506" r="2.6" fill="#ffffff"/>
<path d="M135.70,471.10 L137.58,471.16 L140.27,471.17 L143.00,470.70 L145.39,469.32 L147.82,467.46 L150.70,465.90 L154.16,464.95 L158.06,464.31 L162.40,463.90 L167.60,463.64 L173.23,463.61 L178.00,463.90 L181.14,464.65 L183.42,465.72 L185.90,466.80 L188.85,467.81 L192.00,468.83 L195.60,469.80 L200.09,470.68 L205.03,471.50 L209.30,472.30 L212.16,473.17 L214.35,474.01 L217.00,474.60 L220.45,474.95 L224.36,475.04 L228.80,474.60 L234.59,473.18 L240.92,471.22 L245.40,469.80" stroke="#ff9900" stroke-width="2.5" fill="none" />
</g>
<rect x="135.5" y="436.5" width="110" height="78" fill="none" stroke="#000"/>
<text x="128.5" y="440" font-size="11" fill="#000" text-anchor="end" font-weight="normal" textLength="19.9" lengthAdjust="spacingAndGlyphs" >15.0</text>
<text x="251" y="440" font-size="11" fill="#ff8c00" text-anchor="start" font-weight="normal" textLength="16.799999999999997" lengthAdjust="spacingAndGlyphs" >100</text>
<text x="128.5" y="460" font-size="11" fill="#000" text-anchor="end" font-weight="normal" textLength="14.299999999999997" lengthAdjust="spacingAndGlyphs" >7.0</text>
<text x="251" y="460" font-size="11" fill="#ff8c00" text-anchor="start" font-weight="normal" textLength="11.2" lengthAdjust="spacingAndGlyphs" >20</text>
<text x="128.5" y="479" font-size="11" fill="#000" text-anchor="end" font-weight="normal" textLength="14.299999999999997" lengthAdjust="spacingAndGlyphs" >2.0</text>
<text x="251" y="479" font-size="11" fill="#ff8c00" text-anchor="start" font-weight="normal" textLength="5.6" lengthAdjust="spacingAndGlyphs" >5</text>
<text x="128.5" y="499" font-size="11" fill="#000" text-anchor="end" font-weight="normal" textLength="14.299999999999997" lengthAdjust="spacingAndGlyphs" >0.5</text>
<text x="251" y="499" font-size="11" fill="#ff8c00" text-anchor="start" font-weight="normal" textLength="5.6" lengthAdjust="spacingAndGlyphs" >1</text>
<text x="128.5" y="518" font-size="11" fill="#000" text-anchor="end" font-weight="normal" textLength="14.299999999999997" lengthAdjust="spacingAndGlyphs" >0.0</text>
<text x="251" y="518" font-size="11" fill="#ff8c00" text-anchor="start" font-weight="normal" textLength="5.6" lengthAdjust="spacingAndGlyphs" >0</text>
<rect x="135" y="523" width="110" height="78" fill="#88d4fb"/>
<rect x="170" y="523" width="62" height="78" fill="#76bde9"/>
<clipPath id="cpMK"><rect x="135" y="523" width="110" height="78"/></clipPath><g clip-path="url(#cpMK)">
<path d="M163.90,601.00 L167.70,584.40 L172.90,571.50 L179.30,564.40 L185.70,562.50 L190.90,548.30 L196.00,544.50 L205.00,543.20 L210.00,540.00 L210.00,601.00Z" fill="#ffffff" />
<path d="M192.20,601.00 L193.50,575.00 L196.00,544.50 L197.50,532.00 L198.50,531.50 L203.80,533.00 L205.00,543.20 L210.20,529.00 L215.40,525.20 L232.10,524.50 L238.50,535.50 L245.00,543.80 L245.00,601.00Z" fill="#999999" />
<path d="M205.00,543.20 L210.20,529.00 L215.40,525.20 L232.10,524.50 L238.50,535.50 L245.00,543.80" stroke="#ffffff" stroke-width="1" fill="none" />
<path d="M135.00,601.00 L135.00,578.60 L143.50,563.50 L150.70,578.60 L157.00,583.40 L160.00,585.70 L166.40,589.50 L176.70,592.70 L183.80,568.90 L191.50,569.60 L193.50,575.40 L204.40,594.70 L216.60,550.90 L225.70,534.80 L232.10,539.30 L239.80,552.20 L245.00,565.00 L245.00,601.00Z" fill="#555555" />
<path d="M135.57,601.40 L135.57,589.78 L141.14,594.55 L149.09,591.05 L155.46,594.55 L164.21,600.92Z" fill="#383838" />
<path d="M136.00,589.00 L150.00,600.00" stroke="#aaaaaa" stroke-width="0.8" fill="none" />
<path d="M185.00,600.00 L192.20,574.00" stroke="#bbbbbb" stroke-width="0.8" fill="none" />
<line x1="143.5" y1="523" x2="143.5" y2="601" stroke="#000" stroke-dasharray="2,2"/>
<line x1="164.5" y1="523" x2="164.5" y2="601" stroke="#000" stroke-dasharray="2,2"/>
<line x1="184.5" y1="523" x2="184.5" y2="601" stroke="#000" stroke-dasharray="2,2"/>
<line x1="204.5" y1="523" x2="204.5" y2="601" stroke="#000" stroke-dasharray="2,2"/>
<line x1="225.5" y1="523" x2="225.5" y2="601" stroke="#000" stroke-dasharray="2,2"/>
<line x1="135" y1="543.5" x2="245" y2="543.5" stroke="#000" stroke-dasharray="2,2"/>
<line x1="135" y1="562.5" x2="245" y2="562.5" stroke="#000" stroke-dasharray="2,2"/>
<line x1="135" y1="582.5" x2="245" y2="582.5" stroke="#000" stroke-dasharray="2,2"/>
<rect x="216.6" y="590.2" width="3.2" height="10.5" fill="#ffb000"/>
<rect x="223.7" y="590.2" width="3.2" height="10.5" fill="#ffb000"/>
<rect x="230.8" y="590.2" width="3.2" height="10.5" fill="#ffb000"/>
<rect x="237.9" y="590.2" width="3.2" height="10.5" fill="#ffb000"/>
</g>
<rect x="135.5" y="523.5" width="110" height="78" fill="none" stroke="#000"/>
<text x="128.5" y="527.5" font-size="11" fill="#000" text-anchor="end" font-weight="normal" textLength="5.6" lengthAdjust="spacingAndGlyphs" >8</text>
<text x="251" y="527.5" font-size="11" fill="#ff8c00" text-anchor="start" font-weight="normal" textLength="5.6" lengthAdjust="spacingAndGlyphs" >1</text>
<text x="128.5" y="546.5" font-size="11" fill="#000" text-anchor="end" font-weight="normal" textLength="5.6" lengthAdjust="spacingAndGlyphs" >6</text>
<text x="251" y="546.5" font-size="11" fill="#ff8c00" text-anchor="start" font-weight="normal" textLength="19.9" lengthAdjust="spacingAndGlyphs" >0.75</text>
<text x="128.5" y="565" font-size="11" fill="#000" text-anchor="end" font-weight="normal" textLength="5.6" lengthAdjust="spacingAndGlyphs" >4</text>
<text x="251" y="565" font-size="11" fill="#ff8c00" text-anchor="start" font-weight="normal" textLength="14.299999999999997" lengthAdjust="spacingAndGlyphs" >0.5</text>
<text x="128.5" y="585.5" font-size="11" fill="#000" text-anchor="end" font-weight="normal" textLength="5.6" lengthAdjust="spacingAndGlyphs" >2</text>
<text x="251" y="585.5" font-size="11" fill="#ff8c00" text-anchor="start" font-weight="normal" textLength="19.9" lengthAdjust="spacingAndGlyphs" >0.25</text>
<text x="128.5" y="604" font-size="11" fill="#000" text-anchor="end" font-weight="normal" textLength="5.6" lengthAdjust="spacingAndGlyphs" >0</text>
<text x="251" y="604" font-size="11" fill="#ff8c00" text-anchor="start" font-weight="normal" textLength="5.6" lengthAdjust="spacingAndGlyphs" >0</text>
<text x="5.5" y="18.5" font-size="11" fill="#000" text-anchor="start" font-weight="normal" textLength="59" lengthAdjust="spacingAndGlyphs" >Czas lokalny</text>
<text x="5.5" y="29.5" font-size="10.5" fill="#000" textLength="55" lengthAdjust="spacing">(CET/CEST)</text>
<path d="M67.50,16.50 L132.50,16.50 L156.50,45.50" stroke="#000" stroke-width="1" fill="none" />
<text x="5.5" y="46" font-size="11" fill="#a0282a" text-anchor="start" font-weight="normal" textLength="94" lengthAdjust="spacingAndGlyphs" >Temperatura gruntu</text>
<text x="27.5" y="55.5" font-size="11" fill="#a0282a" text-anchor="start" font-weight="normal" textLength="39" lengthAdjust="spacingAndGlyphs" >max/min</text>
<path d="M102.50,44.50 L119.50,44.50 L150.50,82.50" stroke="#a0282a" stroke-width="1" fill="none" />
<text x="5.5" y="68" font-size="11" fill="#000" text-anchor="start" font-weight="normal" textLength="62" lengthAdjust="spacingAndGlyphs" >Temperatura:</text>
<text x="12.5" y="79.5" font-size="11" fill="#ff0000" text-anchor="start" font-weight="normal" textLength="77" lengthAdjust="spacingAndGlyphs" >punkt środkowy</text>
<path d="M92.50,76.50 L115.50,76.50" stroke="#ff0000" stroke-width="1" fill="none" />
<path d="M130.50,76.50 L133.50,76.50 L150.50,98.50" stroke="#ff0000" stroke-width="1" fill="none" />
<text x="27.5" y="89.5" font-size="11" fill="#ffcfbf" text-anchor="start" font-weight="normal" textLength="39" lengthAdjust="spacingAndGlyphs" >max/min</text>
<text x="10" y="101.5" font-size="11" fill="#0000ff" text-anchor="start" font-weight="normal" textLength="57" lengthAdjust="spacingAndGlyphs" >odczuwana</text>
<path d="M70.50,98.50 L132.50,98.50 L140.50,103.50" stroke="#0000ff" stroke-width="1" fill="none" />
<text x="27.5" y="111.5" font-size="11" fill="#a8daff" text-anchor="start" font-weight="normal" textLength="39" lengthAdjust="spacingAndGlyphs" >max/min</text>
<text x="5.5" y="124" font-size="11" fill="#6666cc" text-anchor="start" font-weight="normal" textLength="87" lengthAdjust="spacingAndGlyphs" >Temp. punktu rosy</text>
<path d="M95.50,120.50 L131.50,120.50 L142.50,112.50" stroke="#6666cc" stroke-width="1" fill="none" />
<text x="5.5" y="140" font-size="11" fill="#ff0000" text-anchor="start" font-weight="normal" textLength="94.5" lengthAdjust="spacingAndGlyphs" >Opad powyżej skali</text>
<path d="M102.50,137.50 L141.50,137.50 L146.50,147.50" stroke="#ff0000" stroke-width="1" fill="none" />
<text x="5.5" y="154.5" font-size="11" fill="#e0501a" text-anchor="start" font-weight="normal" textLength="97.5" lengthAdjust="spacingAndGlyphs" >Wilgotność względna</text>
<path d="M107.50,151.50 L111.50,151.50" stroke="#e0501a" stroke-width="1" fill="none" />
<path d="M129.50,151.50 L131.50,151.50 L143.50,162.50" stroke="#e0501a" stroke-width="1" fill="none" />
<text x="5.5" y="169.5" font-size="11" fill="#000" text-anchor="start" font-weight="normal" textLength="86" lengthAdjust="spacingAndGlyphs" >Wystąpienie burzy</text>
<path d="M94.50,167.50 L112.50,167.50" stroke="#000" stroke-width="1" fill="none" />
<path d="M129.50,165.50 L131.50,165.50 L138.50,171.50" stroke="#000" stroke-width="1" fill="none" />
<text x="5.5" y="182.5" font-size="11" fill="#00a000" text-anchor="start" font-weight="normal" textLength="40.5" lengthAdjust="spacingAndGlyphs" >Deszcz:</text>
<text x="49.5" y="182.5" font-size="11" fill="#00a000" text-anchor="start" font-weight="normal" textLength="19" lengthAdjust="spacingAndGlyphs" >max</text>
<path d="M71.50,179.50 L139.50,179.50" stroke="#00a000" stroke-width="1" fill="none" />
<text x="48.75" y="193.75" font-size="11" fill="#00a000" text-anchor="start" font-weight="normal" textLength="30" lengthAdjust="spacingAndGlyphs" >średni</text>
<path d="M81.50,190.50 L136.50,190.50" stroke="#00a000" stroke-width="1" fill="none" />
<text x="5.5" y="204.5" font-size="11" fill="#2040c0" text-anchor="start" font-weight="normal" textLength="31" lengthAdjust="spacingAndGlyphs" >Śnieg:</text>
<text x="48.75" y="204.5" font-size="11" fill="#2040c0" text-anchor="start" font-weight="normal" textLength="19.25" lengthAdjust="spacingAndGlyphs" >max</text>
<path d="M70.50,202.50 L111.50,202.50" stroke="#2040c0" stroke-width="1" fill="none" />
<path d="M129.50,202.50 L131.50,202.50 L160.50,172.50" stroke="#2040c0" stroke-width="1" fill="none" />
<path d="M160.50,171.50 L160.50,182.50" stroke="#2040c0" stroke-width="1" fill="none" />
<text x="48.75" y="215" font-size="11" fill="#2040c0" text-anchor="start" font-weight="normal" textLength="30" lengthAdjust="spacingAndGlyphs" >średni</text>
<path d="M81.50,212.50 L131.50,212.50 L157.50,181.50" stroke="#2040c0" stroke-width="1" fill="none" />
<text x="5.5" y="228" font-size="11" fill="#ff0000" text-anchor="start" font-weight="normal" textLength="89" lengthAdjust="spacingAndGlyphs" >Wystąpienie opadu</text>
<text x="5.5" y="240" font-size="11" fill="#ff0000" text-anchor="start" font-weight="normal" textLength="71" lengthAdjust="spacingAndGlyphs" >konwekcyjnego</text>
<path d="M97.50,225.50 L143.50,225.50 L147.50,220.50" stroke="#ff0000" stroke-width="1" fill="none" />
<text x="5" y="267" font-size="11" fill="#000" text-anchor="start" font-weight="normal" textLength="42" lengthAdjust="spacingAndGlyphs" >Ciśnienie</text>
<path d="M51.50,264.50 L132.50,264.50 L136.50,262.50" stroke="#000" stroke-width="1" fill="none" />
<text x="5" y="279.5" font-size="11" fill="#000" text-anchor="start" font-weight="normal" textLength="66" lengthAdjust="spacingAndGlyphs" >zredukowane</text>
<text x="5" y="292" font-size="11" fill="#000" text-anchor="start" font-weight="normal" textLength="87" lengthAdjust="spacingAndGlyphs" >do poziomu morza</text>
<text x="5.5" y="321.5" font-size="11" fill="#000" textLength="65.5" lengthAdjust="spacingAndGlyphs">Wiatr na <tspan font-family="Liberation Serif">10m</tspan>:</text>
<text x="9.5" y="338" font-size="11" fill="#ff0000" text-anchor="start" font-weight="normal" textLength="100" lengthAdjust="spacingAndGlyphs" >poryw powyżej skali</text>
<path d="M112.50,334.50 L116.50,334.50" stroke="#ff0000" stroke-width="1" fill="none" />
<path d="M130.50,332.50 L138.50,316.50" stroke="#ff0000" stroke-width="1" fill="none" />
<text x="9.5" y="351.5" font-size="11" fill="#ff0000" text-anchor="start" font-weight="normal" textLength="94" lengthAdjust="spacingAndGlyphs" >max porywy wiatru</text>
<path d="M107.50,348.50 L131.50,348.50 L144.50,340.50" stroke="#ff0000" stroke-width="1" fill="none" />
<text x="9.5" y="371.5" font-size="11" fill="#000096" text-anchor="start" font-weight="normal" textLength="78.5" lengthAdjust="spacingAndGlyphs" >prędkość wiatru</text>
<path d="M92.50,367.50 L136.50,367.50" stroke="#000096" stroke-width="1" fill="none" />
<text x="9.5" y="384" font-size="11" fill="#000096" text-anchor="start" font-weight="normal" textLength="88.5" lengthAdjust="spacingAndGlyphs" >w środku obszaru</text>
<text x="9.5" y="412.5" font-size="11" fill="#000096" text-anchor="start" font-weight="normal" textLength="73.5" lengthAdjust="spacingAndGlyphs" >kierunek wiatru</text>
<path d="M86.50,410.50 L138.50,410.50" stroke="#000096" stroke-width="1" fill="none" />
<text x="5.5" y="432.5" font-size="11" fill="#a0282a" text-anchor="start" font-weight="normal" textLength="91.5" lengthAdjust="spacingAndGlyphs" >Wierzchołek chmur</text>
<path d="M100.50,430.50 L131.50,430.50 L185.50,449.50" stroke="#a0282a" stroke-width="1" fill="none" />
<text x="5.5" y="447.5" font-size="11" fill="#000" text-anchor="start" font-weight="normal" textLength="85.75" lengthAdjust="spacingAndGlyphs" >Podstawa chmur*</text>
<text x="5.5" y="458" font-size="11" fill="#000" text-anchor="start" font-weight="normal" textLength="48.25" lengthAdjust="spacingAndGlyphs" >o pokryciu</text>
<text x="10" y="471.5" font-size="11" fill="#000" text-anchor="start" font-weight="normal" textLength="44.5" lengthAdjust="spacingAndGlyphs" >&gt; 7.9 okt.</text>
<path d="M57.50,468.50 L135.50,468.50 L190.50,456.50" stroke="#000" stroke-width="1" fill="none" />
<text x="10" y="482.5" font-size="11" fill="#404040" text-anchor="start" font-weight="normal" textLength="44.5" lengthAdjust="spacingAndGlyphs" >&gt; 6.5 okt.</text>
<path d="M57.50,480.50 L142.50,480.50" stroke="#404040" stroke-width="1" fill="none" />
<text x="10" y="493.5" font-size="11" fill="#909090" text-anchor="start" font-weight="normal" textLength="44.5" lengthAdjust="spacingAndGlyphs" >&gt; 4.5 okt.</text>
<path d="M57.50,490.50 L131.50,490.50 L143.50,500.50" stroke="#909090" stroke-width="1" fill="none" />
<text x="10" y="503.5" font-size="11" fill="#d0d0d0" text-anchor="start" font-weight="normal" textLength="44.5" lengthAdjust="spacingAndGlyphs" >&gt; 2.5 okt.</text>
<path d="M57.50,500.50 L131.50,500.50 L138.50,506.50" stroke="#d0d0d0" stroke-width="1" fill="none" />
<rect x="10.5" y="505" width="44.5" height="10" fill="#87cefa"/>
<text x="10" y="513.5" font-size="11" fill="#ffffff" text-anchor="start" font-weight="normal" textLength="44.5" lengthAdjust="spacingAndGlyphs" >&gt; 0.1 okt.</text>
<line x1="57" y1="509" x2="136" y2="509" stroke="#87cefa" stroke-width="1"/>
<line x1="57" y1="510.5" x2="136" y2="510.5" stroke="#ffffff" stroke-width="1"/>
<line x1="57" y1="511.5" x2="136" y2="511.5" stroke="#87cefa" stroke-width="1"/>
<text x="5.5" y="529.5" font-size="11" fill="#ff8000" text-anchor="start" font-weight="normal" textLength="58.25" lengthAdjust="spacingAndGlyphs" >Widzialność</text>
<path d="M67.50,527.50 L130.50,527.50 L175.50,464.50" stroke="#ff9900" stroke-width="1" fill="none" />
<text x="5.5" y="547" font-size="11" fill="#000" text-anchor="start" font-weight="normal" textLength="38.5" lengthAdjust="spacingAndGlyphs" >Chmury:</text>
<rect x="10.5" y="551" width="40.75" height="11.5" fill="#87cefa"/>
<text x="10.5" y="560" font-size="11" fill="#ffffff" text-anchor="start" font-weight="normal" textLength="40.75" lengthAdjust="spacingAndGlyphs" >wysokie</text>
<line x1="53.75" y1="556" x2="186" y2="556" stroke="#87cefa" stroke-width="1"/>
<line x1="53.75" y1="557.5" x2="186" y2="557.5" stroke="#ffffff" stroke-width="1"/>
<line x1="53.75" y1="558.5" x2="186" y2="558.5" stroke="#87cefa" stroke-width="1"/>
<text x="10" y="572.5" font-size="11" fill="#909090" text-anchor="start" font-weight="normal" textLength="35.5" lengthAdjust="spacingAndGlyphs" >średnie</text>
<path d="M48.50,570.50 L191.50,570.50" stroke="#909090" stroke-width="1" fill="none" />
<text x="10" y="584.5" font-size="11" fill="#404040" text-anchor="start" font-weight="normal" textLength="26.25" lengthAdjust="spacingAndGlyphs" >niskie</text>
<path d="M40.50,582.50 L122.50,582.50" stroke="#404040" stroke-width="1" fill="none" />
<path d="M130.50,582.50 L136.50,582.50" stroke="#404040" stroke-width="1" fill="none" />
<text x="10" y="596.5" font-size="11" fill="#000" text-anchor="start" font-weight="normal" textLength="61.25" lengthAdjust="spacingAndGlyphs" >bardzo niskie</text>
<path d="M74.50,593.50 L136.50,593.50 L145.50,600.50" stroke="#000" stroke-width="1" fill="none" />
<text x="5.5" y="608" font-size="11" fill="#ffa500" text-anchor="start" font-weight="normal" textLength="20.75" lengthAdjust="spacingAndGlyphs" >Mgła</text>
<path d="M29.50,605.50 L217.50,605.50 L218.50,601.50" stroke="#ffa500" stroke-width="1" fill="none" />
<text x="5" y="626" font-size="11.5" fill="#000" textLength="131.5" lengthAdjust="spacing">Czas uniwersalny (UTC)</text>
<path d="M139.50,622.50 L150.50,622.50 L157.50,607.50" stroke="#000" stroke-width="1" fill="none" />
<text x="5" y="651" font-size="9.5" fill="#000" font-weight="bold" textLength="103" lengthAdjust="spacing">* powyżej poziomu morza</text>
</svg></body></html>
